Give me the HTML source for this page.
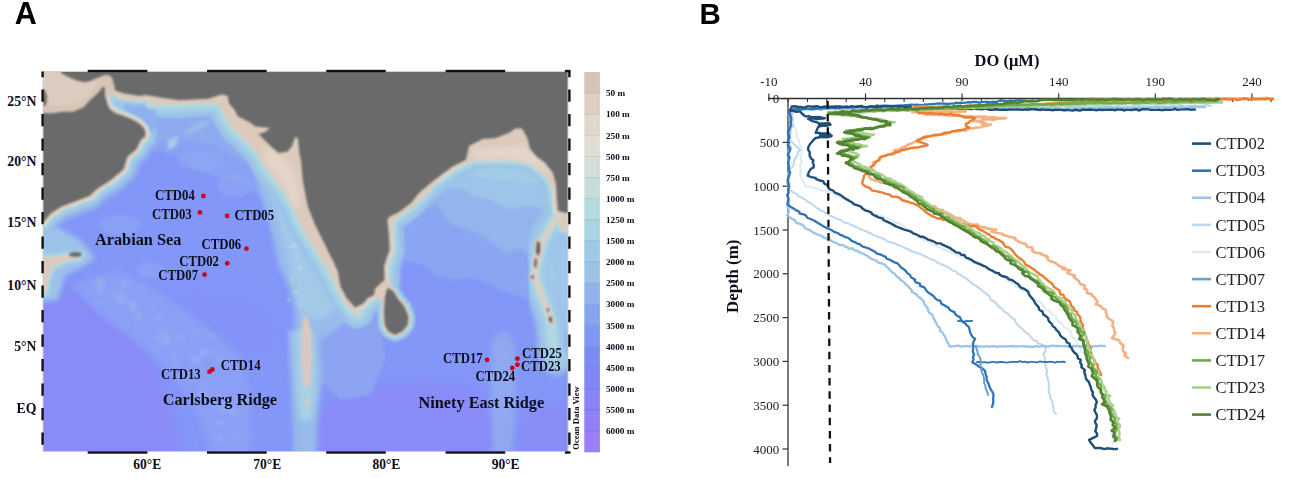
<!DOCTYPE html>
<html><head><meta charset="utf-8"><title>Figure</title>
<style>html,body{margin:0;padding:0;background:#fff;}body{width:1299px;height:478px;overflow:hidden;}svg{display:block;}</style>
</head><body>
<svg width="1299" height="478" viewBox="0 0 1299 478">
<defs>
<filter id="b1" x="-20%" y="-20%" width="140%" height="140%"><feGaussianBlur stdDeviation="1"/></filter>
<filter id="b2" x="-20%" y="-20%" width="140%" height="140%"><feGaussianBlur stdDeviation="2.5"/></filter>
<filter id="b3" x="-20%" y="-20%" width="140%" height="140%"><feGaussianBlur stdDeviation="1.6"/></filter>
<filter id="b5" x="-20%" y="-20%" width="140%" height="140%"><feGaussianBlur stdDeviation="6"/></filter>
<clipPath id="mapclip"><rect x="43" y="71.5" width="525" height="380"/></clipPath>
</defs>
<g clip-path="url(#mapclip)">
<rect x="0" y="0" width="650" height="478" fill="#8397f8"/>
<g filter="url(#b5)">
<path d="M20,285 L80,290 L120,310 L150,350 L170,400 L185,470 L20,470 Z" fill="#898bf8"/>
<path d="M300,470 L315,410 L350,390 L420,380 L470,385 L492,400 L495,470 Z" fill="#898bf8"/>
<path d="M515,470 L520,420 L545,405 L575,400 L575,470 Z" fill="#898bf8" opacity="0.8"/>
<path d="M150,300 L200,290 L260,300 L280,330 L270,360 L230,340 L190,320 Z" fill="#8690f7" opacity="0.7"/>
</g>
<g filter="url(#b3)">
<path d="M40,200 L60,192 L100,178 L130,165 L150,150 L175,155 L200,172 L240,182 L262,200 L275,240 L300,240 L300,60 L40,60 Z" fill="#8aa2f3"/>
<path d="M120,100 L230,100 L250,140 L262,170 L240,160 L215,145 L190,140 L165,142 L140,135 Z" fill="#8eaaf1"/>
<path d="M60.3,-50.0 L650.0,-50.0 L650.0,214.0 L566.7,213.0 L558.0,211.0 L557.0,200.0 L556.0,184.0 L553.0,173.0 L545.0,162.4 L537.0,157.0 L530.0,148.8 L527.4,138.0 L522.0,128.4 L515.0,128.4 L509.7,132.5 L496.0,138.0 L482.5,139.0 L469.0,146.0 L466.0,159.7 L452.6,166.5 L436.0,178.7 L420.0,192.0 L416.6,195.9 L410.8,203.2 L399.0,212.0 L390.0,216.4 L387.3,219.3 L388.8,234.0 L389.6,250.0 L386.5,258.4 L384.0,266.7 L384.4,280.3 L380.2,283.5 L375.0,288.7 L374.0,295.0 L367.7,298.1 L363.5,303.3 L355.1,307.5 L346.7,298.0 L340.5,286.6 L338.0,272.0 L334.1,263.0 L329.0,253.0 L324.7,244.1 L315.3,225.3 L307.8,206.5 L304.5,190.0 L302.5,178.0 L301.0,160.0 L299.5,154.5 L298.0,138.4 L295.1,136.9 L292.2,145.7 L287.8,151.5 L279.0,153.0 L273.2,148.6 L264.3,139.8 L258.5,134.0 L264.3,132.5 L270.2,128.1 L255.5,126.6 L249.7,122.2 L243.8,119.3 L238.0,116.4 L235.0,110.5 L229.0,103.2 L227.7,95.9 L221.8,94.4 L208.6,98.8 L179.3,100.3 L160.0,97.4 L154.5,96.6 L145.4,95.1 L139.4,95.9 L133.4,95.1 L124.3,93.6 L115.3,90.6 L113.8,84.6 L112.3,78.5 L110.0,75.8 L106.3,74.8 L103.3,75.5 L100.2,77.0 L95.7,78.5 L91.2,80.8 L85.2,82.3 L77.6,80.8 L70.0,77.8 L62.6,74.0 L60.3,71.0 Z" fill="#90acf0" stroke="#90acf0" stroke-width="34" stroke-linejoin="round" />
<path d="M-50.0,113.0 L40.0,113.0 L52.0,113.2 L62.6,111.7 L73.1,111.7 L83.7,107.2 L88.2,101.9 L95.7,95.1 L100.2,90.6 L101.7,87.6 L103.3,86.8 L105.0,88.3 L104.8,93.6 L106.3,101.1 L109.3,108.7 L115.3,113.2 L124.3,116.2 L133.4,120.0 L139.4,123.7 L143.9,128.2 L145.4,132.8 L144.7,137.3 L141.4,139.0 L136.0,149.6 L127.2,156.7 L123.7,169.1 L111.2,179.8 L97.0,188.7 L89.8,195.8 L75.6,201.2 L61.4,206.5 L50.7,213.6 L43.6,221.8 L-50.0,225.0 Z" fill="#90acf0" stroke="#90acf0" stroke-width="30" stroke-linejoin="round" />
<ellipse cx="200" cy="160" rx="22" ry="10" fill="#8fa9f3" opacity="0.6"/>
<ellipse cx="235" cy="185" rx="18" ry="12" fill="#8fa9f3" opacity="0.6"/>
<ellipse cx="120" cy="225" rx="20" ry="10" fill="#8fa9f3" opacity="0.6"/>
<ellipse cx="150" cy="270" rx="14" ry="8" fill="#8fa9f3" opacity="0.6"/>
<ellipse cx="115" cy="290" rx="12" ry="7" fill="#8fa9f3" opacity="0.6"/>
<ellipse cx="250" cy="150" rx="15" ry="8" fill="#8fa9f3" opacity="0.6"/>
<path d="M168,140 L178,136 L176,146 L168,150 Z" fill="#a5cde6"/>
<path d="M182,132 L205,120 L212,122 L190,134 Z" fill="#98bbec"/>
<path d="M380,300 L395,265 L402,260 L423,265 L435,275 L450,280 L475,278 L500,290 L530,300 L560,320 L575,320 L575,100 L380,100 Z" fill="#8aa5f1"/>
<path d="M380,260 L395,222 L415,210 L437,205 L443,215 L453,225 L468,230 L482,235 L501,250 L507,254 L518,248 L530,255 L545,262 L560,280 L575,280 L575,100 L380,100 Z" fill="#93b4ed"/>
<path d="M380,250 L392,230 L400,215 L420,200 L440,189 L461,188 L471,195 L488,199 L503,207 L513,209 L530,205 L545,210 L560,230 L575,230 L575,100 L380,100 Z" fill="#9dc4e9"/>
<path d="M470,150 L560,150 L560,185 L520,182 L490,178 L470,175 Z" fill="#a3cde6"/>
<path d="M320,300 L380,320 L385,360 L370,395 L340,400 L320,380 Z" fill="#8ca4f2"/>
</g>
<g filter="url(#b2)">
<path d="M248,150 L259,188 L270,225 L278,263 L289,289 L294,308 L296,335 L325,338 L345,322 L355,312 L330,290 L300,225 L280,180 Z" fill="#97bbeb"/>
<path d="M262,175 L274,205 L283,240 L290,270 L297,300 L303,318 L322,320 L338,305 L318,260 L300,225 L285,190 Z" fill="#a2c9e8"/>
<path d="M288,330 L300,330 L320,335 L322,380 L318,420 L316,460 L294,460 L292,400 L290,360 Z" fill="#97baeb"/>
<path d="M290,330 L300,330 L318,335 L320,380 L314,420 L298,420 L292,380 Z" fill="#9cc3e9"/>
<path d="M297,330 L312,330 L314,370 L313,400 L311,420 L301,420 L299,400 L298,360 Z" fill="#a9d1e5"/>
<path d="M70,285 L120,270 L165,295 L205,325 L240,355 L252,400 L250,460 L212,460 L200,420 L180,385 L145,350 L100,315 Z" fill="#8a9ff5"/>
<ellipse cx="166.8" cy="332.4" rx="1.7" ry="1.8" fill="#9bb9f0" opacity="0.8"/>
<ellipse cx="177.3" cy="333.7" rx="1.6" ry="1.7" fill="#9bb9f0" opacity="0.8"/>
<ellipse cx="120.3" cy="294.7" rx="3.6" ry="1.2" fill="#9bb9f0" opacity="0.8"/>
<ellipse cx="118.8" cy="300.8" rx="2.9" ry="1.6" fill="#9bb9f0" opacity="0.8"/>
<ellipse cx="251.9" cy="438.4" rx="2.2" ry="1.2" fill="#9bb9f0" opacity="0.8"/>
<ellipse cx="111.8" cy="307.3" rx="2.0" ry="1.9" fill="#9bb9f0" opacity="0.8"/>
<ellipse cx="196.6" cy="378.3" rx="1.7" ry="1.1" fill="#9bb9f0" opacity="0.8"/>
<ellipse cx="130.7" cy="303.1" rx="2.3" ry="1.9" fill="#9bb9f0" opacity="0.8"/>
<ellipse cx="172.7" cy="353.9" rx="3.2" ry="1.4" fill="#9bb9f0" opacity="0.8"/>
<ellipse cx="176.1" cy="360.6" rx="3.3" ry="1.4" fill="#9bb9f0" opacity="0.8"/>
<ellipse cx="238.5" cy="440.1" rx="3.4" ry="1.2" fill="#9bb9f0" opacity="0.8"/>
<ellipse cx="202.9" cy="351.5" rx="3.4" ry="1.9" fill="#9bb9f0" opacity="0.8"/>
<ellipse cx="218.4" cy="422.4" rx="3.0" ry="1.9" fill="#9bb9f0" opacity="0.8"/>
<ellipse cx="195.3" cy="332.1" rx="2.7" ry="2.0" fill="#9bb9f0" opacity="0.8"/>
<ellipse cx="102.5" cy="282.0" rx="4.0" ry="2.2" fill="#9bb9f0" opacity="0.8"/>
<ellipse cx="136.4" cy="325.7" rx="1.6" ry="1.7" fill="#9bb9f0" opacity="0.8"/>
<ellipse cx="132.5" cy="304.9" rx="3.4" ry="1.2" fill="#9bb9f0" opacity="0.8"/>
<ellipse cx="124.5" cy="322.4" rx="1.7" ry="1.7" fill="#9bb9f0" opacity="0.8"/>
<ellipse cx="212.7" cy="351.2" rx="3.7" ry="1.4" fill="#9bb9f0" opacity="0.8"/>
<ellipse cx="156.9" cy="347.8" rx="3.9" ry="1.2" fill="#9bb9f0" opacity="0.8"/>
<ellipse cx="131.8" cy="309.0" rx="2.7" ry="1.9" fill="#9bb9f0" opacity="0.8"/>
<ellipse cx="158.5" cy="316.9" rx="2.4" ry="1.8" fill="#9bb9f0" opacity="0.8"/>
<ellipse cx="223.1" cy="423.4" rx="3.0" ry="2.0" fill="#9bb9f0" opacity="0.8"/>
<ellipse cx="123.2" cy="283.3" rx="3.7" ry="2.2" fill="#9bb9f0" opacity="0.8"/>
<ellipse cx="164.1" cy="336.6" rx="3.1" ry="1.1" fill="#9bb9f0" opacity="0.8"/>
<ellipse cx="111.0" cy="294.5" rx="2.4" ry="1.1" fill="#9bb9f0" opacity="0.8"/>
<ellipse cx="98.3" cy="285.3" rx="2.4" ry="1.0" fill="#9bb9f0" opacity="0.8"/>
<ellipse cx="220.5" cy="411.4" rx="2.1" ry="1.5" fill="#9bb9f0" opacity="0.8"/>
<ellipse cx="180.4" cy="339.1" rx="4.0" ry="1.7" fill="#9bb9f0" opacity="0.8"/>
<ellipse cx="189.5" cy="349.9" rx="2.4" ry="1.4" fill="#9bb9f0" opacity="0.8"/>
<ellipse cx="224.4" cy="406.2" rx="3.9" ry="1.8" fill="#9bb9f0" opacity="0.8"/>
<ellipse cx="122.9" cy="300.1" rx="2.8" ry="2.5" fill="#9bb9f0" opacity="0.8"/>
<ellipse cx="222.1" cy="406.9" rx="2.4" ry="1.3" fill="#9bb9f0" opacity="0.8"/>
<ellipse cx="198.6" cy="393.0" rx="2.3" ry="1.3" fill="#9bb9f0" opacity="0.8"/>
<ellipse cx="245.2" cy="400.9" rx="3.5" ry="2.2" fill="#9bb9f0" opacity="0.8"/>
<ellipse cx="218.9" cy="396.6" rx="2.4" ry="1.0" fill="#9bb9f0" opacity="0.8"/>
<ellipse cx="99.2" cy="290.9" rx="3.2" ry="2.4" fill="#9bb9f0" opacity="0.8"/>
<ellipse cx="211.2" cy="336.0" rx="3.9" ry="1.5" fill="#9bb9f0" opacity="0.8"/>
<ellipse cx="139.7" cy="314.8" rx="2.0" ry="1.9" fill="#9bb9f0" opacity="0.8"/>
<ellipse cx="233.9" cy="413.3" rx="3.1" ry="2.2" fill="#9bb9f0" opacity="0.8"/>
<ellipse cx="98.8" cy="282.0" rx="3.5" ry="2.1" fill="#9bb9f0" opacity="0.8"/>
<ellipse cx="192.8" cy="357.2" rx="2.3" ry="2.2" fill="#9bb9f0" opacity="0.8"/>
<ellipse cx="219.4" cy="437.7" rx="3.9" ry="2.1" fill="#9bb9f0" opacity="0.8"/>
<ellipse cx="134.5" cy="306.3" rx="3.8" ry="2.2" fill="#9bb9f0" opacity="0.8"/>
<ellipse cx="141.1" cy="285.6" rx="3.1" ry="1.5" fill="#9bb9f0" opacity="0.8"/>
<ellipse cx="197.4" cy="359.2" rx="3.9" ry="2.0" fill="#9bb9f0" opacity="0.8"/>
<ellipse cx="203.9" cy="352.5" rx="3.7" ry="2.2" fill="#9bb9f0" opacity="0.8"/>
<ellipse cx="136.8" cy="314.5" rx="2.1" ry="1.9" fill="#9bb9f0" opacity="0.8"/>
<ellipse cx="139.8" cy="317.9" rx="3.8" ry="1.5" fill="#9bb9f0" opacity="0.8"/>
<ellipse cx="157.7" cy="338.1" rx="2.6" ry="2.4" fill="#9bb9f0" opacity="0.8"/>
<ellipse cx="173.5" cy="349.8" rx="1.5" ry="1.7" fill="#9bb9f0" opacity="0.8"/>
<ellipse cx="153.5" cy="305.9" rx="1.9" ry="1.7" fill="#9bb9f0" opacity="0.8"/>
<ellipse cx="205.8" cy="385.1" rx="2.8" ry="1.8" fill="#9bb9f0" opacity="0.8"/>
<ellipse cx="232.0" cy="402.0" rx="2.1" ry="1.4" fill="#9bb9f0" opacity="0.8"/>
<ellipse cx="203.7" cy="394.8" rx="3.4" ry="2.4" fill="#9bb9f0" opacity="0.8"/>
<ellipse cx="166.7" cy="337.6" rx="2.8" ry="2.0" fill="#9bb9f0" opacity="0.8"/>
<ellipse cx="165.8" cy="342.2" rx="3.9" ry="2.0" fill="#9bb9f0" opacity="0.8"/>
<ellipse cx="234.4" cy="412.4" rx="2.9" ry="2.4" fill="#9bb9f0" opacity="0.8"/>
<ellipse cx="227.8" cy="409.3" rx="2.6" ry="1.1" fill="#9bb9f0" opacity="0.8"/>
<ellipse cx="158.1" cy="317.6" rx="3.5" ry="2.3" fill="#9bb9f0" opacity="0.8"/>
<ellipse cx="123.3" cy="293.0" rx="1.9" ry="2.3" fill="#9bb9f0" opacity="0.8"/>
<ellipse cx="234.5" cy="447.7" rx="2.5" ry="1.7" fill="#9bb9f0" opacity="0.8"/>
<ellipse cx="233.2" cy="434.8" rx="2.6" ry="1.8" fill="#9bb9f0" opacity="0.8"/>
<ellipse cx="162.9" cy="332.4" rx="3.3" ry="1.0" fill="#9bb9f0" opacity="0.8"/>
<ellipse cx="194.8" cy="359.7" rx="2.3" ry="1.9" fill="#9bb9f0" opacity="0.8"/>
<ellipse cx="221.6" cy="359.7" rx="3.5" ry="2.5" fill="#9bb9f0" opacity="0.8"/>
<ellipse cx="116.7" cy="297.2" rx="3.4" ry="1.4" fill="#9bb9f0" opacity="0.8"/>
<ellipse cx="98.9" cy="304.6" rx="3.5" ry="1.4" fill="#9bb9f0" opacity="0.8"/>
<ellipse cx="139.8" cy="297.1" rx="3.3" ry="1.1" fill="#9bb9f0" opacity="0.8"/>
<ellipse cx="102.3" cy="284.0" rx="1.7" ry="2.4" fill="#9bb9f0" opacity="0.8"/>
<ellipse cx="500.0" cy="409.8" rx="2.8" ry="2.2" fill="#98b6f0" opacity="0.8"/>
<ellipse cx="496.7" cy="434.9" rx="2.2" ry="3.0" fill="#98b6f0" opacity="0.8"/>
<ellipse cx="502.8" cy="400.8" rx="1.7" ry="3.6" fill="#98b6f0" opacity="0.8"/>
<ellipse cx="500.3" cy="366.2" rx="1.7" ry="2.5" fill="#98b6f0" opacity="0.8"/>
<ellipse cx="503.8" cy="345.5" rx="2.0" ry="4.3" fill="#98b6f0" opacity="0.8"/>
<ellipse cx="504.7" cy="371.9" rx="2.3" ry="2.5" fill="#98b6f0" opacity="0.8"/>
<ellipse cx="504.1" cy="378.2" rx="1.5" ry="4.2" fill="#98b6f0" opacity="0.8"/>
<ellipse cx="500.3" cy="400.6" rx="1.8" ry="3.4" fill="#98b6f0" opacity="0.8"/>
<ellipse cx="503.7" cy="442.8" rx="2.1" ry="3.5" fill="#98b6f0" opacity="0.8"/>
<ellipse cx="503.0" cy="431.8" rx="2.1" ry="3.5" fill="#98b6f0" opacity="0.8"/>
<ellipse cx="502.9" cy="415.7" rx="2.7" ry="4.1" fill="#98b6f0" opacity="0.8"/>
<ellipse cx="499.1" cy="410.0" rx="2.1" ry="3.0" fill="#98b6f0" opacity="0.8"/>
<ellipse cx="503.8" cy="346.0" rx="2.6" ry="2.8" fill="#98b6f0" opacity="0.8"/>
<ellipse cx="503.2" cy="358.0" rx="1.6" ry="4.5" fill="#98b6f0" opacity="0.8"/>
<ellipse cx="496.7" cy="435.8" rx="1.9" ry="2.9" fill="#98b6f0" opacity="0.8"/>
<ellipse cx="497.6" cy="390.5" rx="1.7" ry="3.3" fill="#98b6f0" opacity="0.8"/>
<ellipse cx="512.0" cy="369.0" rx="2.3" ry="2.7" fill="#98b6f0" opacity="0.8"/>
<ellipse cx="495.1" cy="446.2" rx="2.0" ry="3.1" fill="#98b6f0" opacity="0.8"/>
<ellipse cx="499.7" cy="340.1" rx="2.3" ry="2.6" fill="#98b6f0" opacity="0.8"/>
<ellipse cx="503.3" cy="395.5" rx="1.5" ry="2.8" fill="#98b6f0" opacity="0.8"/>
<ellipse cx="501.6" cy="349.9" rx="1.5" ry="2.9" fill="#98b6f0" opacity="0.8"/>
<ellipse cx="502.4" cy="365.6" rx="2.4" ry="3.6" fill="#98b6f0" opacity="0.8"/>
<ellipse cx="495.4" cy="422.6" rx="2.8" ry="3.2" fill="#98b6f0" opacity="0.8"/>
<ellipse cx="495.9" cy="375.9" rx="3.0" ry="2.4" fill="#98b6f0" opacity="0.8"/>
<ellipse cx="498.3" cy="419.7" rx="2.8" ry="4.7" fill="#98b6f0" opacity="0.8"/>
<path d="M492,340 L505,330 L515,345 L516,400 L512,460 L494,460 L490,400 Z" fill="#8fa8ef"/>
<path d="M545,215 L575,215 L575,330 L560,335 L545,300 L530,260 L532,230 Z" fill="#9fc6e9"/>
<path d="M538,235 L548,240 L552,280 L555,320 L548,325 L540,290 L532,260 Z" fill="#b5d9e0"/>
<path d="M20,225 L60,228 L80,240 L95,258 L80,268 L65,275 L58,300 L20,305 Z" fill="#9cc3ea"/>
</g>
<g filter="url(#b1)">
<path d="M60.3,-50.0 L650.0,-50.0 L650.0,214.0 L566.7,213.0 L558.0,211.0 L557.0,200.0 L556.0,184.0 L553.0,173.0 L545.0,162.4 L537.0,157.0 L530.0,148.8 L527.4,138.0 L522.0,128.4 L515.0,128.4 L509.7,132.5 L496.0,138.0 L482.5,139.0 L469.0,146.0 L466.0,159.7 L452.6,166.5 L436.0,178.7 L420.0,192.0 L416.6,195.9 L410.8,203.2 L399.0,212.0 L390.0,216.4 L387.3,219.3 L388.8,234.0 L389.6,250.0 L386.5,258.4 L384.0,266.7 L384.4,280.3 L380.2,283.5 L375.0,288.7 L374.0,295.0 L367.7,298.1 L363.5,303.3 L355.1,307.5 L346.7,298.0 L340.5,286.6 L338.0,272.0 L334.1,263.0 L329.0,253.0 L324.7,244.1 L315.3,225.3 L307.8,206.5 L304.5,190.0 L302.5,178.0 L301.0,160.0 L299.5,154.5 L298.0,138.4 L295.1,136.9 L292.2,145.7 L287.8,151.5 L279.0,153.0 L273.2,148.6 L264.3,139.8 L258.5,134.0 L264.3,132.5 L270.2,128.1 L255.5,126.6 L249.7,122.2 L243.8,119.3 L238.0,116.4 L235.0,110.5 L229.0,103.2 L227.7,95.9 L221.8,94.4 L208.6,98.8 L179.3,100.3 L160.0,97.4 L154.5,96.6 L145.4,95.1 L139.4,95.9 L133.4,95.1 L124.3,93.6 L115.3,90.6 L113.8,84.6 L112.3,78.5 L110.0,75.8 L106.3,74.8 L103.3,75.5 L100.2,77.0 L95.7,78.5 L91.2,80.8 L85.2,82.3 L77.6,80.8 L70.0,77.8 L62.6,74.0 L60.3,71.0 Z" fill="#9cc2e8" stroke="#9cc2e8" stroke-width="30" stroke-linejoin="round"/>
<path d="M-50.0,113.0 L40.0,113.0 L52.0,113.2 L62.6,111.7 L73.1,111.7 L83.7,107.2 L88.2,101.9 L95.7,95.1 L100.2,90.6 L101.7,87.6 L103.3,86.8 L105.0,88.3 L104.8,93.6 L106.3,101.1 L109.3,108.7 L115.3,113.2 L124.3,116.2 L133.4,120.0 L139.4,123.7 L143.9,128.2 L145.4,132.8 L144.7,137.3 L141.4,139.0 L136.0,149.6 L127.2,156.7 L123.7,169.1 L111.2,179.8 L97.0,188.7 L89.8,195.8 L75.6,201.2 L61.4,206.5 L50.7,213.6 L43.6,221.8 L-50.0,225.0 Z" fill="#9cc2e8" stroke="#9cc2e8" stroke-width="22" stroke-linejoin="round"/>
<path d="M150.0,97.0 L221.8,94.4 L229.0,103.2 L238.0,116.4 L255.5,126.6 L270.2,128.1 L298.0,138.4 L302.5,178.0 L304.5,190.0 L307.8,206.5 L315.3,225.3 L324.7,244.1 L334.1,263.0 L341.7,281.8 L349.2,296.8 L355.0,307.3 L360.0,314.0 L356.7,315.7 L349.2,308.1 L341.7,296.8 L336.0,285.5 L328.5,270.5 L319.0,255.4 L309.7,240.4 L300.2,225.3 L292.7,206.5 L281.4,188.0 L275.0,180.0 L268.0,171.0 L262.0,162.0 L258.0,154.0 L252.0,147.0 L243.8,139.0 L232.0,128.1 L223.3,113.4 L218.9,104.7 L208.6,103.2 L179.3,104.7 L150.0,104.7 Z" fill="#9cc2e8" stroke="#9cc2e8" stroke-width="26" stroke-linejoin="round"/>
<path d="M389.0,240.0 L388.8,234.0 L387.3,219.3 L390.0,216.4 L399.0,212.0 L410.8,203.2 L416.6,195.9 L420.0,192.0 L436.0,178.7 L452.6,166.5 L466.0,159.7 L469.0,146.0 L482.5,139.0 L496.0,138.0 L509.7,132.5 L515.0,128.4 L522.0,128.4 L527.4,138.0 L530.0,148.8 L537.0,157.0 L545.0,162.4 L553.0,173.0 L556.0,184.0 L557.0,200.0 L558.0,211.0 L566.7,213.0 L575.0,213.0 L575.0,232.0 L560.0,230.0 L557.0,200.0 L547.7,178.7 L528.7,162.4 L501.5,159.7 L474.0,161.0 L447.0,170.5 L425.0,196.0 L413.0,207.0 L402.0,215.0 L394.0,221.0 L393.0,235.0 Z" fill="#9cc2e8" stroke="#9cc2e8" stroke-width="16" stroke-linejoin="round"/>
<path d="M387.5,287.7 L392.8,290.8 L399.0,300.2 L404.3,306.5 L408.5,317.0 L407.4,325.3 L402.2,331.6 L394.9,334.7 L388.6,331.6 L384.8,325.3 L384.0,312.8 L384.8,298.1 L386.5,290.8 Z" fill="#9cc2e8" stroke="#9cc2e8" stroke-width="14" stroke-linejoin="round"/>
<path d="M30.0,258.0 L55.0,257.0 L68.0,254.5 L82.0,254.5 L80.0,258.0 L70.0,260.0 L60.0,263.0 L52.0,268.0 L48.0,278.0 L46.0,292.0 L30.0,292.0 Z" fill="#9cc2e8" stroke="#9cc2e8" stroke-width="12" stroke-linejoin="round"/>
<path d="M60.3,-50.0 L650.0,-50.0 L650.0,214.0 L566.7,213.0 L558.0,211.0 L557.0,200.0 L556.0,184.0 L553.0,173.0 L545.0,162.4 L537.0,157.0 L530.0,148.8 L527.4,138.0 L522.0,128.4 L515.0,128.4 L509.7,132.5 L496.0,138.0 L482.5,139.0 L469.0,146.0 L466.0,159.7 L452.6,166.5 L436.0,178.7 L420.0,192.0 L416.6,195.9 L410.8,203.2 L399.0,212.0 L390.0,216.4 L387.3,219.3 L388.8,234.0 L389.6,250.0 L386.5,258.4 L384.0,266.7 L384.4,280.3 L380.2,283.5 L375.0,288.7 L374.0,295.0 L367.7,298.1 L363.5,303.3 L355.1,307.5 L346.7,298.0 L340.5,286.6 L338.0,272.0 L334.1,263.0 L329.0,253.0 L324.7,244.1 L315.3,225.3 L307.8,206.5 L304.5,190.0 L302.5,178.0 L301.0,160.0 L299.5,154.5 L298.0,138.4 L295.1,136.9 L292.2,145.7 L287.8,151.5 L279.0,153.0 L273.2,148.6 L264.3,139.8 L258.5,134.0 L264.3,132.5 L270.2,128.1 L255.5,126.6 L249.7,122.2 L243.8,119.3 L238.0,116.4 L235.0,110.5 L229.0,103.2 L227.7,95.9 L221.8,94.4 L208.6,98.8 L179.3,100.3 L160.0,97.4 L154.5,96.6 L145.4,95.1 L139.4,95.9 L133.4,95.1 L124.3,93.6 L115.3,90.6 L113.8,84.6 L112.3,78.5 L110.0,75.8 L106.3,74.8 L103.3,75.5 L100.2,77.0 L95.7,78.5 L91.2,80.8 L85.2,82.3 L77.6,80.8 L70.0,77.8 L62.6,74.0 L60.3,71.0 Z" fill="#a3cfe5" stroke="#a3cfe5" stroke-width="20" stroke-linejoin="round"/>
<path d="M-50.0,113.0 L40.0,113.0 L52.0,113.2 L62.6,111.7 L73.1,111.7 L83.7,107.2 L88.2,101.9 L95.7,95.1 L100.2,90.6 L101.7,87.6 L103.3,86.8 L105.0,88.3 L104.8,93.6 L106.3,101.1 L109.3,108.7 L115.3,113.2 L124.3,116.2 L133.4,120.0 L139.4,123.7 L143.9,128.2 L145.4,132.8 L144.7,137.3 L141.4,139.0 L136.0,149.6 L127.2,156.7 L123.7,169.1 L111.2,179.8 L97.0,188.7 L89.8,195.8 L75.6,201.2 L61.4,206.5 L50.7,213.6 L43.6,221.8 L-50.0,225.0 Z" fill="#a3cfe5" stroke="#a3cfe5" stroke-width="15" stroke-linejoin="round"/>
<path d="M150.0,97.0 L221.8,94.4 L229.0,103.2 L238.0,116.4 L255.5,126.6 L270.2,128.1 L298.0,138.4 L302.5,178.0 L304.5,190.0 L307.8,206.5 L315.3,225.3 L324.7,244.1 L334.1,263.0 L341.7,281.8 L349.2,296.8 L355.0,307.3 L360.0,314.0 L356.7,315.7 L349.2,308.1 L341.7,296.8 L336.0,285.5 L328.5,270.5 L319.0,255.4 L309.7,240.4 L300.2,225.3 L292.7,206.5 L281.4,188.0 L275.0,180.0 L268.0,171.0 L262.0,162.0 L258.0,154.0 L252.0,147.0 L243.8,139.0 L232.0,128.1 L223.3,113.4 L218.9,104.7 L208.6,103.2 L179.3,104.7 L150.0,104.7 Z" fill="#a3cfe5" stroke="#a3cfe5" stroke-width="16" stroke-linejoin="round"/>
<path d="M389.0,240.0 L388.8,234.0 L387.3,219.3 L390.0,216.4 L399.0,212.0 L410.8,203.2 L416.6,195.9 L420.0,192.0 L436.0,178.7 L452.6,166.5 L466.0,159.7 L469.0,146.0 L482.5,139.0 L496.0,138.0 L509.7,132.5 L515.0,128.4 L522.0,128.4 L527.4,138.0 L530.0,148.8 L537.0,157.0 L545.0,162.4 L553.0,173.0 L556.0,184.0 L557.0,200.0 L558.0,211.0 L566.7,213.0 L575.0,213.0 L575.0,232.0 L560.0,230.0 L557.0,200.0 L547.7,178.7 L528.7,162.4 L501.5,159.7 L474.0,161.0 L447.0,170.5 L425.0,196.0 L413.0,207.0 L402.0,215.0 L394.0,221.0 L393.0,235.0 Z" fill="#a3cfe5" stroke="#a3cfe5" stroke-width="10" stroke-linejoin="round"/>
<path d="M387.5,287.7 L392.8,290.8 L399.0,300.2 L404.3,306.5 L408.5,317.0 L407.4,325.3 L402.2,331.6 L394.9,334.7 L388.6,331.6 L384.8,325.3 L384.0,312.8 L384.8,298.1 L386.5,290.8 Z" fill="#a3cfe5" stroke="#a3cfe5" stroke-width="10" stroke-linejoin="round"/>
<path d="M30.0,258.0 L55.0,257.0 L68.0,254.5 L82.0,254.5 L80.0,258.0 L70.0,260.0 L60.0,263.0 L52.0,268.0 L48.0,278.0 L46.0,292.0 L30.0,292.0 Z" fill="#a3cfe5" stroke="#a3cfe5" stroke-width="8" stroke-linejoin="round"/>
<path d="M126.0,104.0 L135.0,105.0 L145.0,105.5 L152.0,107.0 L156.0,112.0 L156.0,125.0 L152.0,134.0 L146.0,131.0 L141.0,127.0 L134.0,121.0 L128.0,114.0 L124.0,108.0 Z" fill="#8fb0ef" filter="url(#b3)"/>
<polyline points="562.0,210.0 552.0,225.0 544.0,238.0 538.0,258.0 535.0,276.0 541.0,294.0 548.0,311.0 551.0,323.0 553.0,345.0 556.0,360.0" fill="none" stroke="#9cc2e8" stroke-width="30" stroke-linejoin="round" stroke-linecap="round" filter="url(#b2)"/>
<polyline points="562.0,210.0 552.0,225.0 544.0,238.0 538.0,258.0 535.0,276.0 541.0,294.0 548.0,311.0 551.0,323.0 553.0,345.0 556.0,360.0" fill="none" stroke="#a3cfe5" stroke-width="17" stroke-linejoin="round" stroke-linecap="round" filter="url(#b2)"/>
<polyline points="562.0,210.0 552.0,225.0 544.0,238.0 538.0,258.0 535.0,276.0 541.0,294.0 548.0,311.0 551.0,323.0 553.0,345.0" fill="none" stroke="#b0d8e0" stroke-width="10" stroke-linejoin="round" stroke-linecap="round"/>
<path d="M60.3,-50.0 L650.0,-50.0 L650.0,214.0 L566.7,213.0 L558.0,211.0 L557.0,200.0 L556.0,184.0 L553.0,173.0 L545.0,162.4 L537.0,157.0 L530.0,148.8 L527.4,138.0 L522.0,128.4 L515.0,128.4 L509.7,132.5 L496.0,138.0 L482.5,139.0 L469.0,146.0 L466.0,159.7 L452.6,166.5 L436.0,178.7 L420.0,192.0 L416.6,195.9 L410.8,203.2 L399.0,212.0 L390.0,216.4 L387.3,219.3 L388.8,234.0 L389.6,250.0 L386.5,258.4 L384.0,266.7 L384.4,280.3 L380.2,283.5 L375.0,288.7 L374.0,295.0 L367.7,298.1 L363.5,303.3 L355.1,307.5 L346.7,298.0 L340.5,286.6 L338.0,272.0 L334.1,263.0 L329.0,253.0 L324.7,244.1 L315.3,225.3 L307.8,206.5 L304.5,190.0 L302.5,178.0 L301.0,160.0 L299.5,154.5 L298.0,138.4 L295.1,136.9 L292.2,145.7 L287.8,151.5 L279.0,153.0 L273.2,148.6 L264.3,139.8 L258.5,134.0 L264.3,132.5 L270.2,128.1 L255.5,126.6 L249.7,122.2 L243.8,119.3 L238.0,116.4 L235.0,110.5 L229.0,103.2 L227.7,95.9 L221.8,94.4 L208.6,98.8 L179.3,100.3 L160.0,97.4 L154.5,96.6 L145.4,95.1 L139.4,95.9 L133.4,95.1 L124.3,93.6 L115.3,90.6 L113.8,84.6 L112.3,78.5 L110.0,75.8 L106.3,74.8 L103.3,75.5 L100.2,77.0 L95.7,78.5 L91.2,80.8 L85.2,82.3 L77.6,80.8 L70.0,77.8 L62.6,74.0 L60.3,71.0 Z" fill="#b0d8e0" stroke="#b0d8e0" stroke-width="13" stroke-linejoin="round"/>
<path d="M-50.0,113.0 L40.0,113.0 L52.0,113.2 L62.6,111.7 L73.1,111.7 L83.7,107.2 L88.2,101.9 L95.7,95.1 L100.2,90.6 L101.7,87.6 L103.3,86.8 L105.0,88.3 L104.8,93.6 L106.3,101.1 L109.3,108.7 L115.3,113.2 L124.3,116.2 L133.4,120.0 L139.4,123.7 L143.9,128.2 L145.4,132.8 L144.7,137.3 L141.4,139.0 L136.0,149.6 L127.2,156.7 L123.7,169.1 L111.2,179.8 L97.0,188.7 L89.8,195.8 L75.6,201.2 L61.4,206.5 L50.7,213.6 L43.6,221.8 L-50.0,225.0 Z" fill="#b0d8e0" stroke="#b0d8e0" stroke-width="10" stroke-linejoin="round"/>
<path d="M150.0,97.0 L221.8,94.4 L229.0,103.2 L238.0,116.4 L255.5,126.6 L270.2,128.1 L298.0,138.4 L302.5,178.0 L304.5,190.0 L307.8,206.5 L315.3,225.3 L324.7,244.1 L334.1,263.0 L341.7,281.8 L349.2,296.8 L355.0,307.3 L360.0,314.0 L356.7,315.7 L349.2,308.1 L341.7,296.8 L336.0,285.5 L328.5,270.5 L319.0,255.4 L309.7,240.4 L300.2,225.3 L292.7,206.5 L281.4,188.0 L275.0,180.0 L268.0,171.0 L262.0,162.0 L258.0,154.0 L252.0,147.0 L243.8,139.0 L232.0,128.1 L223.3,113.4 L218.9,104.7 L208.6,103.2 L179.3,104.7 L150.0,104.7 Z" fill="#b0d8e0" stroke="#b0d8e0" stroke-width="8" stroke-linejoin="round"/>
<path d="M389.0,240.0 L388.8,234.0 L387.3,219.3 L390.0,216.4 L399.0,212.0 L410.8,203.2 L416.6,195.9 L420.0,192.0 L436.0,178.7 L452.6,166.5 L466.0,159.7 L469.0,146.0 L482.5,139.0 L496.0,138.0 L509.7,132.5 L515.0,128.4 L522.0,128.4 L527.4,138.0 L530.0,148.8 L537.0,157.0 L545.0,162.4 L553.0,173.0 L556.0,184.0 L557.0,200.0 L558.0,211.0 L566.7,213.0 L575.0,213.0 L575.0,232.0 L560.0,230.0 L557.0,200.0 L547.7,178.7 L528.7,162.4 L501.5,159.7 L474.0,161.0 L447.0,170.5 L425.0,196.0 L413.0,207.0 L402.0,215.0 L394.0,221.0 L393.0,235.0 Z" fill="#b0d8e0" stroke="#b0d8e0" stroke-width="5" stroke-linejoin="round"/>
<path d="M387.5,287.7 L392.8,290.8 L399.0,300.2 L404.3,306.5 L408.5,317.0 L407.4,325.3 L402.2,331.6 L394.9,334.7 L388.6,331.6 L384.8,325.3 L384.0,312.8 L384.8,298.1 L386.5,290.8 Z" fill="#b0d8e0" stroke="#b0d8e0" stroke-width="7" stroke-linejoin="round"/>
<path d="M30.0,258.0 L55.0,257.0 L68.0,254.5 L82.0,254.5 L80.0,258.0 L70.0,260.0 L60.0,263.0 L52.0,268.0 L48.0,278.0 L46.0,292.0 L30.0,292.0 Z" fill="#b0d8e0" stroke="#b0d8e0" stroke-width="4" stroke-linejoin="round"/>
<path d="M60.3,-50.0 L650.0,-50.0 L650.0,214.0 L566.7,213.0 L558.0,211.0 L557.0,200.0 L556.0,184.0 L553.0,173.0 L545.0,162.4 L537.0,157.0 L530.0,148.8 L527.4,138.0 L522.0,128.4 L515.0,128.4 L509.7,132.5 L496.0,138.0 L482.5,139.0 L469.0,146.0 L466.0,159.7 L452.6,166.5 L436.0,178.7 L420.0,192.0 L416.6,195.9 L410.8,203.2 L399.0,212.0 L390.0,216.4 L387.3,219.3 L388.8,234.0 L389.6,250.0 L386.5,258.4 L384.0,266.7 L384.4,280.3 L380.2,283.5 L375.0,288.7 L374.0,295.0 L367.7,298.1 L363.5,303.3 L355.1,307.5 L346.7,298.0 L340.5,286.6 L338.0,272.0 L334.1,263.0 L329.0,253.0 L324.7,244.1 L315.3,225.3 L307.8,206.5 L304.5,190.0 L302.5,178.0 L301.0,160.0 L299.5,154.5 L298.0,138.4 L295.1,136.9 L292.2,145.7 L287.8,151.5 L279.0,153.0 L273.2,148.6 L264.3,139.8 L258.5,134.0 L264.3,132.5 L270.2,128.1 L255.5,126.6 L249.7,122.2 L243.8,119.3 L238.0,116.4 L235.0,110.5 L229.0,103.2 L227.7,95.9 L221.8,94.4 L208.6,98.8 L179.3,100.3 L160.0,97.4 L154.5,96.6 L145.4,95.1 L139.4,95.9 L133.4,95.1 L124.3,93.6 L115.3,90.6 L113.8,84.6 L112.3,78.5 L110.0,75.8 L106.3,74.8 L103.3,75.5 L100.2,77.0 L95.7,78.5 L91.2,80.8 L85.2,82.3 L77.6,80.8 L70.0,77.8 L62.6,74.0 L60.3,71.0 Z" fill="#e3d8cd" stroke="#e3d8cd" stroke-width="8" stroke-linejoin="round"/>
<path d="M-50.0,113.0 L40.0,113.0 L52.0,113.2 L62.6,111.7 L73.1,111.7 L83.7,107.2 L88.2,101.9 L95.7,95.1 L100.2,90.6 L101.7,87.6 L103.3,86.8 L105.0,88.3 L104.8,93.6 L106.3,101.1 L109.3,108.7 L115.3,113.2 L124.3,116.2 L133.4,120.0 L139.4,123.7 L143.9,128.2 L145.4,132.8 L144.7,137.3 L141.4,139.0 L136.0,149.6 L127.2,156.7 L123.7,169.1 L111.2,179.8 L97.0,188.7 L89.8,195.8 L75.6,201.2 L61.4,206.5 L50.7,213.6 L43.6,221.8 L-50.0,225.0 Z" fill="#e3d8cd" stroke="#e3d8cd" stroke-width="7" stroke-linejoin="round"/>
<path d="M60.3,-50.0 L650.0,-50.0 L650.0,214.0 L566.7,213.0 L558.0,211.0 L557.0,200.0 L556.0,184.0 L553.0,173.0 L545.0,162.4 L537.0,157.0 L530.0,148.8 L527.4,138.0 L522.0,128.4 L515.0,128.4 L509.7,132.5 L496.0,138.0 L482.5,139.0 L469.0,146.0 L466.0,159.7 L452.6,166.5 L436.0,178.7 L420.0,192.0 L416.6,195.9 L410.8,203.2 L399.0,212.0 L390.0,216.4 L387.3,219.3 L388.8,234.0 L389.6,250.0 L386.5,258.4 L384.0,266.7 L384.4,280.3 L380.2,283.5 L375.0,288.7 L374.0,295.0 L367.7,298.1 L363.5,303.3 L355.1,307.5 L346.7,298.0 L340.5,286.6 L338.0,272.0 L334.1,263.0 L329.0,253.0 L324.7,244.1 L315.3,225.3 L307.8,206.5 L304.5,190.0 L302.5,178.0 L301.0,160.0 L299.5,154.5 L298.0,138.4 L295.1,136.9 L292.2,145.7 L287.8,151.5 L279.0,153.0 L273.2,148.6 L264.3,139.8 L258.5,134.0 L264.3,132.5 L270.2,128.1 L255.5,126.6 L249.7,122.2 L243.8,119.3 L238.0,116.4 L235.0,110.5 L229.0,103.2 L227.7,95.9 L221.8,94.4 L208.6,98.8 L179.3,100.3 L160.0,97.4 L154.5,96.6 L145.4,95.1 L139.4,95.9 L133.4,95.1 L124.3,93.6 L115.3,90.6 L113.8,84.6 L112.3,78.5 L110.0,75.8 L106.3,74.8 L103.3,75.5 L100.2,77.0 L95.7,78.5 L91.2,80.8 L85.2,82.3 L77.6,80.8 L70.0,77.8 L62.6,74.0 L60.3,71.0 Z" fill="#dccbbc" stroke="#dccbbc" stroke-width="5" stroke-linejoin="round"/>
<path d="M-50.0,113.0 L40.0,113.0 L52.0,113.2 L62.6,111.7 L73.1,111.7 L83.7,107.2 L88.2,101.9 L95.7,95.1 L100.2,90.6 L101.7,87.6 L103.3,86.8 L105.0,88.3 L104.8,93.6 L106.3,101.1 L109.3,108.7 L115.3,113.2 L124.3,116.2 L133.4,120.0 L139.4,123.7 L143.9,128.2 L145.4,132.8 L144.7,137.3 L141.4,139.0 L136.0,149.6 L127.2,156.7 L123.7,169.1 L111.2,179.8 L97.0,188.7 L89.8,195.8 L75.6,201.2 L61.4,206.5 L50.7,213.6 L43.6,221.8 L-50.0,225.0 Z" fill="#dccbbc" stroke="#dccbbc" stroke-width="4" stroke-linejoin="round"/>
<path d="M387.5,287.7 L392.8,290.8 L399.0,300.2 L404.3,306.5 L408.5,317.0 L407.4,325.3 L402.2,331.6 L394.9,334.7 L388.6,331.6 L384.8,325.3 L384.0,312.8 L384.8,298.1 L386.5,290.8 Z" fill="#dccbbc" stroke="#dccbbc" stroke-width="4" stroke-linejoin="round"/>
<path d="M150.0,97.0 L221.8,94.4 L229.0,103.2 L238.0,116.4 L255.5,126.6 L270.2,128.1 L298.0,138.4 L302.5,178.0 L304.5,190.0 L307.8,206.5 L315.3,225.3 L324.7,244.1 L334.1,263.0 L341.7,281.8 L349.2,296.8 L355.0,307.3 L360.0,314.0 L356.7,315.7 L349.2,308.1 L341.7,296.8 L336.0,285.5 L328.5,270.5 L319.0,255.4 L309.7,240.4 L300.2,225.3 L292.7,206.5 L281.4,188.0 L275.0,180.0 L268.0,171.0 L262.0,162.0 L258.0,154.0 L252.0,147.0 L243.8,139.0 L232.0,128.1 L223.3,113.4 L218.9,104.7 L208.6,103.2 L179.3,104.7 L150.0,104.7 Z" fill="#dccbbc"/>
<path d="M389.0,240.0 L388.8,234.0 L387.3,219.3 L390.0,216.4 L399.0,212.0 L410.8,203.2 L416.6,195.9 L420.0,192.0 L436.0,178.7 L452.6,166.5 L466.0,159.7 L469.0,146.0 L482.5,139.0 L496.0,138.0 L509.7,132.5 L515.0,128.4 L522.0,128.4 L527.4,138.0 L530.0,148.8 L537.0,157.0 L545.0,162.4 L553.0,173.0 L556.0,184.0 L557.0,200.0 L558.0,211.0 L566.7,213.0 L575.0,213.0 L575.0,232.0 L560.0,230.0 L557.0,200.0 L547.7,178.7 L528.7,162.4 L501.5,159.7 L474.0,161.0 L447.0,170.5 L425.0,196.0 L413.0,207.0 L402.0,215.0 L394.0,221.0 L393.0,235.0 Z" fill="#dccbbc"/>
<path d="M103.0,75.0 L110.0,75.8 L112.3,78.5 L113.8,84.6 L115.3,90.6 L124.3,93.6 L133.4,95.1 L145.4,95.1 L160.0,97.4 L179.3,100.3 L180.0,103.0 L160.0,102.0 L145.0,100.5 L133.0,100.5 L122.0,99.0 L115.0,96.5 L109.0,92.0 Z" fill="#dccbbc"/>
<path d="M262,152 L272,150 L290,165 L297,185 L300,205 L296,210 L287,192 L278,176 L266,162 Z" fill="#e3d6ca" filter="url(#b2)"/>
<path d="M470,150 L500,147 L525,145 L540,158 L548,175 L535,165 L505,158 L478,160 Z" fill="#e2d6cb" filter="url(#b2)"/>
<path d="M376.0,284.0 L384.0,281.0 L388.0,283.0 L392.0,289.0 L389.0,296.0 L382.0,299.0 L375.0,296.0 Z" fill="#dccbbc" stroke="#dccbbc" stroke-width="3"/>
<path d="M30.0,258.0 L55.0,257.0 L68.0,254.5 L82.0,254.5 L80.0,258.0 L70.0,260.0 L60.0,263.0 L52.0,268.0 L48.0,278.0 L46.0,292.0 L30.0,292.0 Z" fill="#dccbbc"/>
<polyline points="562.0,210.0 552.0,225.0 544.0,238.0 538.0,258.0 535.0,276.0 541.0,294.0 548.0,311.0 551.0,323.0" fill="none" stroke="#dccfc4" stroke-width="5" stroke-linejoin="round" stroke-linecap="round"/>
<path d="M537.0,241.0 L540.0,243.0 L540.0,252.0 L538.0,256.0 L536.0,252.0 Z" fill="#dccbbc" stroke="#dccbbc" stroke-width="4" stroke-linejoin="round"/>
<path d="M535.0,258.0 L537.0,260.0 L536.0,268.0 L534.0,266.0 Z" fill="#dccbbc" stroke="#dccbbc" stroke-width="4" stroke-linejoin="round"/>
<path d="M532.0,275.0 L534.0,276.0 L533.0,279.0 L531.0,278.0 Z" fill="#dccbbc" stroke="#dccbbc" stroke-width="4" stroke-linejoin="round"/>
<path d="M547.0,308.0 L549.0,309.0 L549.0,312.0 L547.0,311.0 Z" fill="#dccbbc" stroke="#dccbbc" stroke-width="4" stroke-linejoin="round"/>
<path d="M549.0,316.0 L552.0,318.0 L552.0,323.0 L549.0,321.0 Z" fill="#dccbbc" stroke="#dccbbc" stroke-width="4" stroke-linejoin="round"/>
<path d="M-50,60 L62,60 L62.6,74 L70,77.8 L77.6,80.8 L85.2,82.3 L91.2,80.8 L100,77 L106,75 L110,76 L113,84 L115,91 L110,97 L104.8,93.6 L103,87 L95.7,95.1 L88,102 L83.7,107.2 L73,111.7 L52,113.2 L-50,113 Z" fill="#d7c5b5"/>
<path d="M43,71 L62,71 L68,78 L85,84 L100,80 L88,96 L75,104 L60,106 L43,104 Z" fill="#dccfc3" opacity="0.8"/>
<path d="M302,320 L307,315 L311,330 L312,360 L310,385 L304,387 L301.5,360 Z" fill="#dac9c0" filter="url(#b1)"/>
<circle cx="307.5" cy="402" r="2.5" fill="#dac9c0"/>
<circle cx="294" cy="246" r="2.5" fill="#b9d9e3" opacity="0.8"/>
<circle cx="297" cy="256" r="2" fill="#b9d9e3" opacity="0.8"/>
<circle cx="300" cy="268" r="2.2" fill="#b9d9e3" opacity="0.8"/>
<circle cx="292" cy="280" r="1.8" fill="#b9d9e3" opacity="0.8"/>
<circle cx="296" cy="292" r="2" fill="#b9d9e3" opacity="0.8"/>
<circle cx="289" cy="300" r="1.6" fill="#b9d9e3" opacity="0.8"/>
<circle cx="301" cy="305" r="1.8" fill="#b9d9e3" opacity="0.8"/>
</g>
<g filter="url(#b1)">
<path d="M60.3,-50.0 L650.0,-50.0 L650.0,214.0 L566.7,213.0 L558.0,211.0 L557.0,200.0 L556.0,184.0 L553.0,173.0 L545.0,162.4 L537.0,157.0 L530.0,148.8 L527.4,138.0 L522.0,128.4 L515.0,128.4 L509.7,132.5 L496.0,138.0 L482.5,139.0 L469.0,146.0 L466.0,159.7 L452.6,166.5 L436.0,178.7 L420.0,192.0 L416.6,195.9 L410.8,203.2 L399.0,212.0 L390.0,216.4 L387.3,219.3 L388.8,234.0 L389.6,250.0 L386.5,258.4 L384.0,266.7 L384.4,280.3 L380.2,283.5 L375.0,288.7 L374.0,295.0 L367.7,298.1 L363.5,303.3 L355.1,307.5 L346.7,298.0 L340.5,286.6 L338.0,272.0 L334.1,263.0 L329.0,253.0 L324.7,244.1 L315.3,225.3 L307.8,206.5 L304.5,190.0 L302.5,178.0 L301.0,160.0 L299.5,154.5 L298.0,138.4 L295.1,136.9 L292.2,145.7 L287.8,151.5 L279.0,153.0 L273.2,148.6 L264.3,139.8 L258.5,134.0 L264.3,132.5 L270.2,128.1 L255.5,126.6 L249.7,122.2 L243.8,119.3 L238.0,116.4 L235.0,110.5 L229.0,103.2 L227.7,95.9 L221.8,94.4 L208.6,98.8 L179.3,100.3 L160.0,97.4 L154.5,96.6 L145.4,95.1 L139.4,95.9 L133.4,95.1 L124.3,93.6 L115.3,90.6 L113.8,84.6 L112.3,78.5 L110.0,75.8 L106.3,74.8 L103.3,75.5 L100.2,77.0 L95.7,78.5 L91.2,80.8 L85.2,82.3 L77.6,80.8 L70.0,77.8 L62.6,74.0 L60.3,71.0 Z" fill="#6a6a6a"/>
<path d="M-50.0,113.0 L40.0,113.0 L52.0,113.2 L62.6,111.7 L73.1,111.7 L83.7,107.2 L88.2,101.9 L95.7,95.1 L100.2,90.6 L101.7,87.6 L103.3,86.8 L105.0,88.3 L104.8,93.6 L106.3,101.1 L109.3,108.7 L115.3,113.2 L124.3,116.2 L133.4,120.0 L139.4,123.7 L143.9,128.2 L145.4,132.8 L144.7,137.3 L141.4,139.0 L136.0,149.6 L127.2,156.7 L123.7,169.1 L111.2,179.8 L97.0,188.7 L89.8,195.8 L75.6,201.2 L61.4,206.5 L50.7,213.6 L43.6,221.8 L-50.0,225.0 Z" fill="#6a6a6a"/>
<path d="M387.5,287.7 L392.8,290.8 L399.0,300.2 L404.3,306.5 L408.5,317.0 L407.4,325.3 L402.2,331.6 L394.9,334.7 L388.6,331.6 L384.8,325.3 L384.0,312.8 L384.8,298.1 L386.5,290.8 Z" fill="#6a6a6a"/>
<path d="M68.8,254.5 L71.0,252.6 L76.0,252.1 L81.0,252.8 L81.9,254.5 L80.0,256.4 L75.0,256.9 L70.5,256.3 Z" fill="#6a6a6a"/>
<path d="M40.0,89.0 L45.0,90.0 L47.0,96.0 L46.5,104.0 L44.0,106.0 L40.0,106.0 Z" fill="#6a6a6a"/>
<path d="M537.0,241.0 L540.0,243.0 L540.0,252.0 L538.0,256.0 L536.0,252.0 Z" fill="#5a5a5a"/>
<path d="M535.0,258.0 L537.0,260.0 L536.0,268.0 L534.0,266.0 Z" fill="#5a5a5a"/>
<path d="M532.0,275.0 L534.0,276.0 L533.0,279.0 L531.0,278.0 Z" fill="#5a5a5a"/>
<path d="M547.0,308.0 L549.0,309.0 L549.0,312.0 L547.0,311.0 Z" fill="#5a5a5a"/>
<path d="M549.0,316.0 L552.0,318.0 L552.0,323.0 L549.0,321.0 Z" fill="#5a5a5a"/>
</g>
</g>
<rect x="43" y="71.5" width="525" height="380" fill="none" stroke="#d0d0d0" stroke-width="1"/>
<rect x="87.7" y="69.8" width="59.7" height="2.4" fill="#111"/>
<rect x="87.7" y="451.3" width="59.7" height="2.4" fill="#111"/>
<rect x="207.0" y="69.8" width="59.7" height="2.4" fill="#111"/>
<rect x="207.0" y="451.3" width="59.7" height="2.4" fill="#111"/>
<rect x="326.2" y="69.8" width="59.6" height="2.4" fill="#111"/>
<rect x="326.2" y="451.3" width="59.6" height="2.4" fill="#111"/>
<rect x="445.6" y="69.8" width="59.6" height="2.4" fill="#111"/>
<rect x="445.6" y="451.3" width="59.6" height="2.4" fill="#111"/>
<rect x="564.9" y="69.8" width="5.6" height="2.4" fill="#111"/>
<rect x="564.9" y="451.3" width="5.6" height="2.4" fill="#111"/>
<line x1="42.6" y1="71.5" x2="42.6" y2="451.5" stroke="#111" stroke-width="2.4" stroke-dasharray="12.2,12.3" stroke-dashoffset="6.5"/>
<line x1="569.4" y1="71.5" x2="569.4" y2="451.5" stroke="#111" stroke-width="2.4" stroke-dasharray="12.2,12.3" stroke-dashoffset="6.5"/>
<circle cx="203.5" cy="196" r="2.4" fill="#c8001c"/>
<circle cx="199.9" cy="212.4" r="2.4" fill="#c8001c"/>
<circle cx="227.2" cy="216" r="2.4" fill="#c8001c"/>
<circle cx="246.5" cy="248.6" r="2.4" fill="#c8001c"/>
<circle cx="227.3" cy="263.3" r="2.4" fill="#c8001c"/>
<circle cx="204.5" cy="274.6" r="2.4" fill="#c8001c"/>
<circle cx="209.5" cy="371.7" r="2.4" fill="#c8001c"/>
<circle cx="212.4" cy="369.4" r="2.4" fill="#c8001c"/>
<circle cx="487.1" cy="359.8" r="2.4" fill="#c8001c"/>
<circle cx="517.4" cy="358.7" r="2.4" fill="#c8001c"/>
<circle cx="517.4" cy="364.6" r="2.4" fill="#c8001c"/>
<circle cx="512.3" cy="368" r="2.4" fill="#c8001c"/>
<text transform="translate(155.1,200) scale(0.9,1)" font-size="14.2" font-family="Liberation Serif, serif" font-weight="bold" fill="#0d0d1c">CTD04</text>
<text transform="translate(152,218.6) scale(0.9,1)" font-size="14.2" font-family="Liberation Serif, serif" font-weight="bold" fill="#0d0d1c">CTD03</text>
<text transform="translate(234.4,219.6) scale(0.9,1)" font-size="14.2" font-family="Liberation Serif, serif" font-weight="bold" fill="#0d0d1c">CTD05</text>
<text transform="translate(201.5,248.5) scale(0.9,1)" font-size="14.2" font-family="Liberation Serif, serif" font-weight="bold" fill="#0d0d1c">CTD06</text>
<text transform="translate(179.2,265.5) scale(0.9,1)" font-size="14.2" font-family="Liberation Serif, serif" font-weight="bold" fill="#0d0d1c">CTD02</text>
<text transform="translate(158.3,280) scale(0.9,1)" font-size="14.2" font-family="Liberation Serif, serif" font-weight="bold" fill="#0d0d1c">CTD07</text>
<text transform="translate(220.8,370.3) scale(0.9,1)" font-size="14.2" font-family="Liberation Serif, serif" font-weight="bold" fill="#0d0d1c">CTD14</text>
<text transform="translate(161,378.7) scale(0.9,1)" font-size="14.2" font-family="Liberation Serif, serif" font-weight="bold" fill="#0d0d1c">CTD13</text>
<text transform="translate(443,363.2) scale(0.9,1)" font-size="14.2" font-family="Liberation Serif, serif" font-weight="bold" fill="#0d0d1c">CTD17</text>
<text transform="translate(522.1,357.6) scale(0.9,1)" font-size="14.2" font-family="Liberation Serif, serif" font-weight="bold" fill="#0d0d1c">CTD25</text>
<text transform="translate(521,370.8) scale(0.9,1)" font-size="14.2" font-family="Liberation Serif, serif" font-weight="bold" fill="#0d0d1c">CTD23</text>
<text transform="translate(475.5,381.3) scale(0.9,1)" font-size="14.2" font-family="Liberation Serif, serif" font-weight="bold" fill="#0d0d1c">CTD24</text>
<text x="95" y="244.8" font-size="16.3" font-family="Liberation Serif, serif" font-weight="bold" fill="#0d0d1c">Arabian Sea</text>
<text x="162.7" y="404.6" font-size="16.3" font-family="Liberation Serif, serif" font-weight="bold" fill="#0d0d1c">Carlsberg Ridge</text>
<text x="418.5" y="407.6" font-size="16.3" font-family="Liberation Serif, serif" font-weight="bold" fill="#0d0d1c">Ninety East Ridge</text>
<text transform="translate(36.5,106.4) scale(0.97,1)" font-size="14.2" text-anchor="end" font-family="Liberation Serif, serif" font-weight="bold" fill="#0d0d1c">25°N</text>
<text transform="translate(36.5,166.1) scale(0.97,1)" font-size="14.2" text-anchor="end" font-family="Liberation Serif, serif" font-weight="bold" fill="#0d0d1c">20°N</text>
<text transform="translate(36.5,226.5) scale(0.97,1)" font-size="14.2" text-anchor="end" font-family="Liberation Serif, serif" font-weight="bold" fill="#0d0d1c">15°N</text>
<text transform="translate(36.5,290.2) scale(0.97,1)" font-size="14.2" text-anchor="end" font-family="Liberation Serif, serif" font-weight="bold" fill="#0d0d1c">10°N</text>
<text transform="translate(36.5,351.2) scale(0.97,1)" font-size="14.2" text-anchor="end" font-family="Liberation Serif, serif" font-weight="bold" fill="#0d0d1c">5°N</text>
<text transform="translate(36.5,413.3) scale(0.97,1)" font-size="14.2" text-anchor="end" font-family="Liberation Serif, serif" font-weight="bold" fill="#0d0d1c">EQ</text>
<text transform="translate(147.3,469.1) scale(0.965,1)" font-size="14" text-anchor="middle" font-family="Liberation Serif, serif" font-weight="bold" fill="#0d0d1c">60°E</text>
<text transform="translate(267.2,469.1) scale(0.965,1)" font-size="14" text-anchor="middle" font-family="Liberation Serif, serif" font-weight="bold" fill="#0d0d1c">70°E</text>
<text transform="translate(386.4,469.1) scale(0.965,1)" font-size="14" text-anchor="middle" font-family="Liberation Serif, serif" font-weight="bold" fill="#0d0d1c">80°E</text>
<text transform="translate(505.6,469.1) scale(0.965,1)" font-size="14" text-anchor="middle" font-family="Liberation Serif, serif" font-weight="bold" fill="#0d0d1c">90°E</text>
<text transform="translate(578.6,418) rotate(-90)" font-size="8.6" text-anchor="middle" font-family="Liberation Serif, serif" font-weight="bold" fill="#0d0d1c">Ocean Data View</text>
<rect x="584.3" y="72.00" width="15.6" height="21.41" fill="#d6c4b4"/>
<rect x="584.3" y="93.11" width="15.6" height="21.41" fill="#ddcfc3"/>
<rect x="584.3" y="114.22" width="15.6" height="21.41" fill="#e2d7cc"/>
<rect x="584.3" y="135.33" width="15.6" height="21.41" fill="#e2ddd3"/>
<rect x="584.3" y="156.44" width="15.6" height="21.41" fill="#d5ded6"/>
<rect x="584.3" y="177.56" width="15.6" height="21.41" fill="#c6dedb"/>
<rect x="584.3" y="198.67" width="15.6" height="21.41" fill="#b6dbdf"/>
<rect x="584.3" y="219.78" width="15.6" height="21.41" fill="#a8d4e3"/>
<rect x="584.3" y="240.89" width="15.6" height="21.41" fill="#9ecae6"/>
<rect x="584.3" y="262.00" width="15.6" height="21.41" fill="#9cc2e8"/>
<rect x="584.3" y="283.11" width="15.6" height="21.41" fill="#92b3ec"/>
<rect x="584.3" y="304.22" width="15.6" height="21.41" fill="#86a5f0"/>
<rect x="584.3" y="325.33" width="15.6" height="21.41" fill="#7e98f3"/>
<rect x="584.3" y="346.44" width="15.6" height="21.41" fill="#7b8df5"/>
<rect x="584.3" y="367.56" width="15.6" height="21.41" fill="#8086f6"/>
<rect x="584.3" y="388.67" width="15.6" height="21.41" fill="#8a83f7"/>
<rect x="584.3" y="409.78" width="15.6" height="21.41" fill="#9280f7"/>
<rect x="584.3" y="430.89" width="15.6" height="21.41" fill="#9a7ff7"/>
<line x1="584.3" x2="599.9" y1="93.11" y2="93.11" stroke="#000" stroke-opacity="0.12" stroke-width="0.8"/>
<line x1="584.3" x2="599.9" y1="114.22" y2="114.22" stroke="#000" stroke-opacity="0.12" stroke-width="0.8"/>
<line x1="584.3" x2="599.9" y1="135.33" y2="135.33" stroke="#000" stroke-opacity="0.12" stroke-width="0.8"/>
<line x1="584.3" x2="599.9" y1="156.44" y2="156.44" stroke="#000" stroke-opacity="0.12" stroke-width="0.8"/>
<line x1="584.3" x2="599.9" y1="177.56" y2="177.56" stroke="#000" stroke-opacity="0.12" stroke-width="0.8"/>
<line x1="584.3" x2="599.9" y1="198.67" y2="198.67" stroke="#000" stroke-opacity="0.12" stroke-width="0.8"/>
<line x1="584.3" x2="599.9" y1="219.78" y2="219.78" stroke="#000" stroke-opacity="0.12" stroke-width="0.8"/>
<line x1="584.3" x2="599.9" y1="240.89" y2="240.89" stroke="#000" stroke-opacity="0.12" stroke-width="0.8"/>
<line x1="584.3" x2="599.9" y1="262.00" y2="262.00" stroke="#000" stroke-opacity="0.12" stroke-width="0.8"/>
<line x1="584.3" x2="599.9" y1="283.11" y2="283.11" stroke="#000" stroke-opacity="0.12" stroke-width="0.8"/>
<line x1="584.3" x2="599.9" y1="304.22" y2="304.22" stroke="#000" stroke-opacity="0.12" stroke-width="0.8"/>
<line x1="584.3" x2="599.9" y1="325.33" y2="325.33" stroke="#000" stroke-opacity="0.12" stroke-width="0.8"/>
<line x1="584.3" x2="599.9" y1="346.44" y2="346.44" stroke="#000" stroke-opacity="0.12" stroke-width="0.8"/>
<line x1="584.3" x2="599.9" y1="367.56" y2="367.56" stroke="#000" stroke-opacity="0.12" stroke-width="0.8"/>
<line x1="584.3" x2="599.9" y1="388.67" y2="388.67" stroke="#000" stroke-opacity="0.12" stroke-width="0.8"/>
<line x1="584.3" x2="599.9" y1="409.78" y2="409.78" stroke="#000" stroke-opacity="0.12" stroke-width="0.8"/>
<line x1="584.3" x2="599.9" y1="430.89" y2="430.89" stroke="#000" stroke-opacity="0.12" stroke-width="0.8"/>
<text x="606" y="96.3" font-size="9.2" font-family="Liberation Serif, serif" font-weight="bold" fill="#0d0d1c">50 m</text>
<text x="606" y="117.4" font-size="9.2" font-family="Liberation Serif, serif" font-weight="bold" fill="#0d0d1c">100 m</text>
<text x="606" y="138.5" font-size="9.2" font-family="Liberation Serif, serif" font-weight="bold" fill="#0d0d1c">250 m</text>
<text x="606" y="159.6" font-size="9.2" font-family="Liberation Serif, serif" font-weight="bold" fill="#0d0d1c">500 m</text>
<text x="606" y="180.8" font-size="9.2" font-family="Liberation Serif, serif" font-weight="bold" fill="#0d0d1c">750 m</text>
<text x="606" y="201.9" font-size="9.2" font-family="Liberation Serif, serif" font-weight="bold" fill="#0d0d1c">1000 m</text>
<text x="606" y="223.0" font-size="9.2" font-family="Liberation Serif, serif" font-weight="bold" fill="#0d0d1c">1250 m</text>
<text x="606" y="244.1" font-size="9.2" font-family="Liberation Serif, serif" font-weight="bold" fill="#0d0d1c">1500 m</text>
<text x="606" y="265.2" font-size="9.2" font-family="Liberation Serif, serif" font-weight="bold" fill="#0d0d1c">2000 m</text>
<text x="606" y="286.3" font-size="9.2" font-family="Liberation Serif, serif" font-weight="bold" fill="#0d0d1c">2500 m</text>
<text x="606" y="307.4" font-size="9.2" font-family="Liberation Serif, serif" font-weight="bold" fill="#0d0d1c">3000 m</text>
<text x="606" y="328.5" font-size="9.2" font-family="Liberation Serif, serif" font-weight="bold" fill="#0d0d1c">3500 m</text>
<text x="606" y="349.6" font-size="9.2" font-family="Liberation Serif, serif" font-weight="bold" fill="#0d0d1c">4000 m</text>
<text x="606" y="370.8" font-size="9.2" font-family="Liberation Serif, serif" font-weight="bold" fill="#0d0d1c">4500 m</text>
<text x="606" y="391.9" font-size="9.2" font-family="Liberation Serif, serif" font-weight="bold" fill="#0d0d1c">5000 m</text>
<text x="606" y="413.0" font-size="9.2" font-family="Liberation Serif, serif" font-weight="bold" fill="#0d0d1c">5500 m</text>
<text x="606" y="434.1" font-size="9.2" font-family="Liberation Serif, serif" font-weight="bold" fill="#0d0d1c">6000 m</text>
<text x="14.8" y="24.1" font-family="Liberation Sans, sans-serif" font-weight="bold" font-size="30.5" fill="#000">A</text>
<text x="699.4" y="24.1" font-family="Liberation Sans, sans-serif" font-weight="bold" font-size="29.5" fill="#000">B</text>
<text x="1007" y="66.4" font-size="16.5" text-anchor="middle" font-family="Liberation Serif, serif" font-weight="bold" fill="#0d0d1c">DO (μM)</text>
<text x="768.9" y="86" font-size="13" text-anchor="middle" font-family="Liberation Serif, serif" fill="#222">-10</text>
<text x="865.5" y="86" font-size="13" text-anchor="middle" font-family="Liberation Serif, serif" fill="#222">40</text>
<text x="962.1" y="86" font-size="13" text-anchor="middle" font-family="Liberation Serif, serif" fill="#222">90</text>
<text x="1058.7" y="86" font-size="13" text-anchor="middle" font-family="Liberation Serif, serif" fill="#222">140</text>
<text x="1155.3" y="86" font-size="13" text-anchor="middle" font-family="Liberation Serif, serif" fill="#222">190</text>
<text x="1251.9" y="86" font-size="13" text-anchor="middle" font-family="Liberation Serif, serif" fill="#222">240</text>
<text x="779.2" y="103.2" font-size="13" text-anchor="end" font-family="Liberation Serif, serif" fill="#222">0</text>
<text x="779.2" y="147.0" font-size="13" text-anchor="end" font-family="Liberation Serif, serif" fill="#222">500</text>
<text x="779.2" y="190.8" font-size="13" text-anchor="end" font-family="Liberation Serif, serif" fill="#222">1000</text>
<text x="779.2" y="234.6" font-size="13" text-anchor="end" font-family="Liberation Serif, serif" fill="#222">1500</text>
<text x="779.2" y="278.4" font-size="13" text-anchor="end" font-family="Liberation Serif, serif" fill="#222">2000</text>
<text x="779.2" y="322.2" font-size="13" text-anchor="end" font-family="Liberation Serif, serif" fill="#222">2500</text>
<text x="779.2" y="366.0" font-size="13" text-anchor="end" font-family="Liberation Serif, serif" fill="#222">3000</text>
<text x="779.2" y="409.8" font-size="13" text-anchor="end" font-family="Liberation Serif, serif" fill="#222">3500</text>
<text x="779.2" y="453.6" font-size="13" text-anchor="end" font-family="Liberation Serif, serif" fill="#222">4000</text>
<text transform="translate(738,276.3) rotate(-90)" font-size="16.8" text-anchor="middle" font-family="Liberation Serif, serif" font-weight="bold" fill="#0d0d1c">Depth (m)</text>
<line x1="768" y1="98.5" x2="1273" y2="98.5" stroke="#333" stroke-width="1.3"/>
<line x1="788" y1="98.5" x2="788" y2="466" stroke="#333" stroke-width="1.3"/>
<line x1="768.9" y1="93.5" x2="768.9" y2="101" stroke="#333" stroke-width="1.2"/>
<line x1="788.2" y1="98.5" x2="788.2" y2="102" stroke="#333" stroke-width="1.1"/>
<line x1="807.5" y1="98.5" x2="807.5" y2="102" stroke="#333" stroke-width="1.1"/>
<line x1="826.8" y1="98.5" x2="826.8" y2="102" stroke="#333" stroke-width="1.1"/>
<line x1="846.2" y1="98.5" x2="846.2" y2="102" stroke="#333" stroke-width="1.1"/>
<line x1="865.5" y1="93.5" x2="865.5" y2="101" stroke="#333" stroke-width="1.2"/>
<line x1="884.8" y1="98.5" x2="884.8" y2="102" stroke="#333" stroke-width="1.1"/>
<line x1="904.1" y1="98.5" x2="904.1" y2="102" stroke="#333" stroke-width="1.1"/>
<line x1="923.4" y1="98.5" x2="923.4" y2="102" stroke="#333" stroke-width="1.1"/>
<line x1="942.8" y1="98.5" x2="942.8" y2="102" stroke="#333" stroke-width="1.1"/>
<line x1="962.1" y1="93.5" x2="962.1" y2="101" stroke="#333" stroke-width="1.2"/>
<line x1="981.4" y1="98.5" x2="981.4" y2="102" stroke="#333" stroke-width="1.1"/>
<line x1="1000.7" y1="98.5" x2="1000.7" y2="102" stroke="#333" stroke-width="1.1"/>
<line x1="1020.0" y1="98.5" x2="1020.0" y2="102" stroke="#333" stroke-width="1.1"/>
<line x1="1039.4" y1="98.5" x2="1039.4" y2="102" stroke="#333" stroke-width="1.1"/>
<line x1="1058.7" y1="93.5" x2="1058.7" y2="101" stroke="#333" stroke-width="1.2"/>
<line x1="1078.0" y1="98.5" x2="1078.0" y2="102" stroke="#333" stroke-width="1.1"/>
<line x1="1097.3" y1="98.5" x2="1097.3" y2="102" stroke="#333" stroke-width="1.1"/>
<line x1="1116.6" y1="98.5" x2="1116.6" y2="102" stroke="#333" stroke-width="1.1"/>
<line x1="1136.0" y1="98.5" x2="1136.0" y2="102" stroke="#333" stroke-width="1.1"/>
<line x1="1155.3" y1="93.5" x2="1155.3" y2="101" stroke="#333" stroke-width="1.2"/>
<line x1="1174.6" y1="98.5" x2="1174.6" y2="102" stroke="#333" stroke-width="1.1"/>
<line x1="1193.9" y1="98.5" x2="1193.9" y2="102" stroke="#333" stroke-width="1.1"/>
<line x1="1213.2" y1="98.5" x2="1213.2" y2="102" stroke="#333" stroke-width="1.1"/>
<line x1="1232.6" y1="98.5" x2="1232.6" y2="102" stroke="#333" stroke-width="1.1"/>
<line x1="1251.9" y1="93.5" x2="1251.9" y2="101" stroke="#333" stroke-width="1.2"/>
<line x1="1271.2" y1="98.5" x2="1271.2" y2="102" stroke="#333" stroke-width="1.1"/>
<line x1="782.5" y1="98.6" x2="788" y2="98.6" stroke="#333" stroke-width="1.2"/>
<line x1="782.5" y1="142.4" x2="788" y2="142.4" stroke="#333" stroke-width="1.2"/>
<line x1="782.5" y1="186.2" x2="788" y2="186.2" stroke="#333" stroke-width="1.2"/>
<line x1="782.5" y1="230.0" x2="788" y2="230.0" stroke="#333" stroke-width="1.2"/>
<line x1="782.5" y1="273.8" x2="788" y2="273.8" stroke="#333" stroke-width="1.2"/>
<line x1="782.5" y1="317.6" x2="788" y2="317.6" stroke="#333" stroke-width="1.2"/>
<line x1="782.5" y1="361.4" x2="788" y2="361.4" stroke="#333" stroke-width="1.2"/>
<line x1="782.5" y1="405.2" x2="788" y2="405.2" stroke="#333" stroke-width="1.2"/>
<line x1="782.5" y1="449.0" x2="788" y2="449.0" stroke="#333" stroke-width="1.2"/>
<path d="M808,116.5 L818,116 L826,117.5 L824,119.5 L812,119.5 Z" fill="#1f4e79"/>
<path d="M818,122.5 L830,122 L832,125 L826,127 L818,126 Z" fill="#1f4e79"/>
<path d="M818,132.5 L829,132 L833,135.5 L828,138.5 L820,138 Z" fill="#1f4e79"/>
<polyline points="1200.0,104.0 1197.7,103.4 1194.6,104.1 1193.2,104.1 1189.2,104.2 1186.9,104.6 1184.9,104.8 1182.4,103.8 1179.3,104.1 1177.7,104.6 1175.1,104.0 1172.8,103.8 1170.3,104.0 1168.2,104.7 1165.2,104.0 1162.8,104.5 1159.7,104.2 1158.1,104.3 1155.2,104.9 1151.8,105.1 1150.5,104.3 1147.0,104.1 1145.5,103.6 1143.0,104.6 1139.7,104.4 1137.3,104.5 1135.4,104.4 1133.0,105.0 1129.9,104.9 1127.2,104.7 1125.2,105.4 1122.5,104.7 1120.0,104.7 1117.0,105.5 1114.7,104.6 1112.1,105.1 1111.5,106.0 1108.0,105.0 1105.0,104.6 1102.9,104.9 1101.0,104.9 1097.0,104.4 1094.1,105.3 1092.7,104.7 1089.2,105.2 1087.3,105.2 1085.0,104.9 1081.6,105.2 1080.0,105.3 1078.0,105.6 1074.8,105.5 1071.4,105.5 1070.0,105.7 1068.0,105.0 1064.9,105.7 1062.2,105.4 1059.7,105.6 1057.6,105.1 1054.3,104.7 1052.9,105.3 1049.6,105.3 1047.0,105.8 1045.3,104.8 1042.5,105.6 1039.8,105.6 1038.3,105.7 1035.6,106.0 1031.7,106.3 1030.1,105.6 1027.9,106.5 1024.6,105.5 1022.7,105.1 1019.4,105.8 1017.9,106.0 1015.4,106.2 1012.3,105.8 1009.8,105.8 1008.1,106.2 1004.0,106.1 1002.0,105.6 1000.7,106.5 998.1,106.3 995.9,105.7 992.9,105.8 989.7,105.5 988.3,106.8 985.5,106.0 982.6,105.8 979.9,106.8 978.3,106.5 975.4,106.3 972.7,106.3 970.3,106.1 968.0,106.3 965.1,106.4 963.3,106.8 959.6,106.1 957.8,106.5 954.9,106.6 953.4,106.5 950.7,106.4 947.4,106.7 945.0,106.5 942.0,106.6 939.8,106.7 938.0,106.9 935.6,106.8 932.7,107.0 930.4,107.2 927.2,107.0 925.1,107.3 922.9,106.7 920.2,107.2 917.5,107.4 915.1,106.6 912.7,107.3 909.6,107.3 906.1,107.8 904.3,107.0 902.3,106.7 900.2,106.9 896.8,106.4 895.4,107.7 892.4,107.3 890.8,107.4 888.1,107.7 885.4,107.6 883.1,107.5 880.1,107.2 876.5,107.1 874.8,107.9 872.3,106.8 870.4,108.0 867.7,107.7 865.2,107.6 863.2,107.3 859.6,107.1 857.3,107.4 854.7,107.8 853.1,107.3 850.1,107.5 847.2,107.6 845.2,107.3 843.3,107.8 839.7,107.3 838.1,108.2 835.5,108.0 833.4,108.5 831.1,108.1 828.0,108.1 825.0,108.3 822.4,108.6 819.9,108.8 817.4,108.9 814.5,109.0 812.6,109.7 810.3,110.5 806.7,110.1 804.0,109.8 801.7,110.2 800.3,111.0 797.3,111.0 794.8,110.4 792.9,110.8 792.2,113.7 792.4,116.2 793.7,118.8 793.4,121.3 793.2,124.7 794.8,127.2 795.9,129.7 796.2,132.2 796.7,135.2 796.9,138.0 798.5,140.0 799.3,142.6 799.6,144.6 801.3,147.4 801.8,150.1 802.6,152.1 800.4,154.9 800.5,157.4 800.7,160.0 802.0,162.5 800.0,164.6 800.1,167.0 800.6,170.1 800.7,172.8 799.9,174.8 801.0,177.7 802.2,179.9 804.9,183.8 804.9,185.8 807.3,186.8 809.8,186.4 812.6,188.0 814.3,187.9 817.5,188.6 820.5,189.9 821.6,190.4 824.3,190.6 828.2,191.3 830.3,191.9 833.3,193.2 836.2,194.5 836.8,195.5 839.1,197.2 841.0,198.1 844.6,199.3 845.5,200.6 848.9,201.6 850.3,202.5 853.7,203.6 855.5,204.6 857.6,205.9 861.3,207.0 862.1,207.6 864.9,209.1 866.8,209.4 870.4,211.0 871.4,212.1 873.7,212.9 875.5,213.8 877.5,215.3 881.1,215.9 883.5,216.5 885.9,218.0 888.7,218.7 890.3,220.0 893.0,221.0 895.4,222.3 897.7,223.1 899.9,223.5 902.5,225.3 904.4,226.5 907.6,228.9 908.8,230.2 911.7,232.2 913.6,233.3 915.3,234.4 917.9,235.9 919.7,237.7 922.0,238.7 924.7,241.0 927.6,241.9 928.8,242.5 931.7,244.3 934.5,244.9 936.0,246.2 939.4,247.0 941.4,247.9 943.4,249.5 945.6,250.5 948.0,251.0 951.0,252.2 952.6,253.0 955.3,254.0 957.6,255.3 959.5,256.3 962.8,256.7 964.7,258.0 966.3,259.4 969.7,260.3 971.9,261.6 973.1,262.6 977.0,264.3 978.2,264.4 981.4,266.0 983.6,267.0 986.3,268.5 988.0,269.4 990.5,270.7 993.1,271.8 995.6,272.8 997.4,274.2 999.8,274.5 1001.7,276.4 1004.0,277.7 1006.4,279.4 1008.3,280.5 1010.6,282.4 1012.0,283.3 1014.2,284.7 1017.2,287.1 1018.9,287.4 1020.5,289.5 1023.7,291.0 1025.7,291.9 1027.0,293.5 1029.9,294.7 1031.1,296.7 1032.9,298.3 1035.2,299.4 1037.7,301.0 1039.8,302.0 1042.1,303.7 1043.1,305.5 1045.2,307.7 1045.6,309.9 1050.4,311.4 1050.8,313.0 1052.7,314.7 1055.7,316.2 1056.4,318.8 1058.0,321.3 1060.4,322.6 1062.3,324.4 1064.0,326.8 1065.8,328.0 1068.5,329.7 1070.9,331.9 1071.3,334.7 1072.0,336.9 1073.8,338.1 1076.0,341.0 1076.9,342.6 1078.4,344.6 1079.8,346.8 1080.7,348.5 1081.3,351.1 1083.6,353.2 1085.5,355.2 1087.0,357.4 1088.6,359.4 1089.1,361.8 1090.3,364.1 1092.0,365.6 1093.9,368.5 1094.5,369.8 1096.5,373.3 1096.0,374.7 1097.9,376.8 1100.4,379.7 1100.5,381.9 1102.1,384.7 1102.3,386.6 1103.8,389.2 1104.1,391.4 1105.3,394.5 1105.9,396.6 1107.8,398.8 1108.6,401.6 1109.7,404.1 1111.2,406.0 1110.8,408.5 1111.4,411.4 1110.8,413.3 1111.1,415.9 1110.7,419.0 1112.5,420.6 1112.6,423.6 1112.3,426.8 1112.1,429.1 1112.2,431.4 1112.2,434.0 1112.7,436.8 1112.8,438.4 1112.5,442.0 1113.0,444.0" fill="none" stroke="#deebf7" stroke-width="2.0" stroke-linejoin="round" stroke-linecap="round"/>
<polyline points="1211.0,106.0 1207.8,105.6 1206.4,105.2 1203.3,105.2 1201.6,106.1 1199.2,105.9 1196.1,106.0 1192.9,106.1 1190.1,106.0 1188.7,106.1 1185.5,106.9 1183.3,105.9 1180.8,106.0 1178.0,106.0 1176.9,106.2 1173.3,106.4 1171.8,106.1 1167.7,107.1 1164.7,106.1 1163.5,107.0 1160.0,105.4 1158.4,106.1 1155.3,106.4 1153.1,106.4 1150.2,106.7 1148.8,106.3 1145.1,106.6 1143.2,105.9 1140.1,106.7 1137.8,106.2 1135.4,106.3 1132.8,105.7 1131.3,106.4 1127.2,106.7 1125.4,106.4 1123.3,107.2 1120.5,107.0 1119.0,106.1 1114.8,106.7 1111.6,106.3 1110.9,106.8 1107.9,105.8 1106.5,106.7 1103.0,106.7 1099.0,106.0 1096.8,107.2 1094.5,106.5 1092.3,106.8 1090.3,106.7 1086.7,105.5 1085.1,106.7 1083.2,106.6 1079.6,106.8 1076.6,106.4 1074.4,106.9 1073.8,107.0 1070.7,106.9 1067.7,106.7 1064.8,106.0 1061.8,106.4 1060.5,107.1 1058.2,107.5 1054.8,107.3 1053.7,107.0 1050.7,106.9 1046.5,107.1 1044.5,107.1 1042.2,107.2 1038.7,107.8 1038.3,107.0 1034.5,107.2 1032.9,107.3 1030.2,106.5 1026.8,107.7 1025.1,106.7 1022.0,106.8 1019.4,107.7 1017.4,107.7 1015.1,106.8 1012.1,108.2 1009.5,107.0 1008.3,107.5 1005.0,108.0 1001.4,107.6 999.4,107.0 997.0,107.9 994.9,106.9 991.8,108.1 990.6,107.2 989.0,107.4 984.3,107.5 983.1,108.2 980.6,107.5 977.2,107.1 975.0,107.4 972.7,107.2 969.7,107.4 966.8,107.3 964.4,107.3 962.8,107.8 959.2,107.9 957.7,108.3 954.9,107.7 952.1,107.8 950.3,107.9 947.3,108.0 945.1,107.9 941.9,107.9 939.4,107.6 937.6,108.6 935.6,107.9 932.4,108.3 930.8,108.3 927.4,108.0 924.8,107.8 922.0,107.9 918.7,107.5 917.8,107.7 915.3,107.5 912.3,108.2 909.4,107.8 909.0,107.8 904.6,107.9 902.5,108.1 900.6,108.4 897.3,108.0 894.1,107.6 892.0,108.4 890.1,108.5 888.1,108.1 886.3,108.0 882.1,108.1 880.7,108.2 877.0,108.4 875.7,108.2 872.3,108.7 870.6,108.7 867.0,108.4 865.2,107.7 863.2,108.4 859.8,109.2 857.6,108.1 855.0,108.6 853.0,108.4 849.5,108.2 847.0,108.1 845.0,108.3 842.5,108.2 839.5,108.5 837.3,109.0 834.4,108.6 832.5,108.1 830.4,108.7 826.2,108.8 825.5,108.4 823.4,108.7 819.2,108.9 817.1,108.3 813.5,108.8 811.8,109.0 810.0,108.6 806.9,109.5 805.7,109.1 801.9,108.5 799.4,109.5 797.3,108.8 793.8,109.0 791.5,109.0 792.5,113.4 791.9,115.6 791.7,119.0 791.6,120.6 792.1,123.9 793.1,126.3 790.7,129.1 790.8,131.7 789.5,133.9 790.1,137.1 789.6,140.8 792.5,142.4 793.7,144.1 795.9,145.9 798.5,148.2 800.2,150.1 797.9,152.2 797.7,154.9 795.8,157.6 794.4,159.8 794.3,162.4 793.4,165.2 791.7,167.9 788.7,170.0 788.9,172.5 789.4,175.8 789.1,178.6 788.5,180.7 788.6,183.8 788.3,185.9 787.8,188.3 790.9,190.5 792.5,191.7 794.0,192.9 797.0,194.1 798.1,196.4 801.7,197.3 803.2,198.7 805.9,199.8 807.4,201.7 810.5,202.9 812.0,204.3 813.8,205.8 816.6,207.8 818.4,208.8 820.9,210.6 823.8,211.6 825.9,213.1 828.4,214.7 829.8,215.8 832.9,216.7 835.5,218.2 837.9,219.3 840.8,220.0 842.7,221.3 843.9,222.5 847.2,223.1 849.8,224.4 852.7,225.6 854.6,226.7 857.6,227.4 859.7,228.8 862.4,229.8 864.5,231.0 868.2,231.8 868.2,233.3 871.2,233.2 872.5,234.9 877.0,236.1 878.5,237.3 881.0,237.6 883.5,238.9 885.8,240.0 886.8,241.4 890.2,242.1 892.4,243.0 895.2,243.4 897.9,245.2 899.3,245.3 902.1,246.7 905.0,248.0 908.3,249.2 909.7,250.1 910.5,250.7 914.2,252.0 917.4,253.1 920.2,253.8 922.3,255.0 924.6,256.1 926.8,257.1 929.2,258.5 931.4,259.4 935.3,260.6 936.3,261.9 937.6,262.9 940.9,264.0 943.3,265.2 945.7,265.8 947.5,267.0 950.2,268.4 951.0,269.5 953.4,270.9 955.9,271.3 958.0,273.9 960.6,274.8 962.9,276.6 965.5,278.2 967.0,279.1 969.0,280.9 971.0,282.4 972.4,284.0 975.2,285.3 977.3,286.6 979.6,288.4 981.4,289.7 983.2,291.8 985.8,293.4 988.6,295.6 990.0,297.5 991.0,300.0 993.2,300.9 995.9,302.9 997.9,305.9 999.8,307.2 1002.3,309.0 1003.9,311.3 1006.0,312.7 1008.1,313.9 1010.2,316.2 1012.4,318.2 1014.8,319.3 1015.3,321.7 1016.9,323.9 1019.2,325.7 1020.1,327.2 1022.9,329.3 1024.4,331.3 1026.4,332.9 1029.4,334.9 1030.6,337.3 1032.6,338.8 1033.8,340.6 1037.0,341.0 1037.6,343.0 1041.4,344.5 1044.2,345.7 1045.8,349.0 1045.2,351.4 1043.4,354.1 1044.6,356.8 1045.0,359.6 1044.8,361.9 1045.6,364.4 1045.5,367.5 1047.1,369.9 1046.9,372.1 1046.5,375.1 1047.5,377.1 1048.0,380.1 1048.8,382.8 1048.7,384.9 1049.0,387.2 1048.7,389.4 1048.8,392.1 1049.9,395.0 1050.1,397.7 1052.0,400.7 1052.5,403.2 1053.2,406.2 1053.4,408.7 1053.8,411.9 1056.0,414.0" fill="none" stroke="#bdd7ee" stroke-width="2.0" stroke-linejoin="round" stroke-linecap="round"/>
<polyline points="1205.0,107.0 1202.5,107.2 1199.7,107.2 1198.1,107.2 1195.9,106.8 1192.5,106.9 1189.5,107.1 1187.6,107.3 1185.3,108.0 1183.0,106.7 1180.1,107.0 1177.2,107.7 1174.9,106.6 1172.7,107.2 1169.3,107.0 1167.1,107.3 1164.7,107.4 1163.6,107.1 1159.5,107.3 1158.2,107.2 1155.9,107.0 1151.9,107.5 1149.5,107.3 1147.8,107.8 1145.1,107.5 1143.3,107.7 1139.9,108.0 1137.0,107.7 1135.4,107.7 1132.2,107.8 1129.7,107.5 1126.9,108.2 1124.7,108.2 1122.7,107.7 1120.4,107.9 1117.6,107.4 1115.0,108.2 1112.8,108.2 1110.9,108.0 1108.7,107.4 1104.9,107.1 1103.0,108.0 1101.0,107.9 1096.3,108.5 1094.2,107.6 1092.4,108.3 1089.7,108.1 1086.4,108.7 1085.0,108.1 1082.9,108.1 1080.1,107.8 1077.4,108.3 1075.6,108.1 1072.6,108.3 1070.3,108.2 1067.3,108.0 1065.7,108.3 1062.5,109.4 1060.5,108.5 1057.6,107.9 1055.7,108.2 1052.5,108.6 1050.6,108.3 1047.5,109.0 1045.3,107.9 1043.0,108.3 1040.0,108.5 1037.6,109.0 1035.1,108.4 1033.2,108.1 1030.6,108.3 1028.2,108.1 1025.3,107.8 1022.2,108.4 1020.3,109.1 1018.6,107.9 1014.5,108.9 1012.8,108.0 1010.3,108.1 1007.0,108.0 1004.8,109.3 1002.7,108.5 1001.5,108.3 997.4,108.4 995.3,108.4 993.4,108.4 990.3,108.6 987.0,108.2 985.0,107.7 982.5,108.5 980.1,108.5 977.7,108.4 975.4,108.0 973.0,108.2 970.3,108.4 967.2,108.3 965.8,108.2 961.8,108.6 960.2,108.6 956.9,108.3 955.5,108.2 952.9,108.8 950.1,108.1 948.6,108.6 945.1,108.4 941.9,108.5 940.1,108.3 937.6,109.0 935.3,108.5 933.1,108.9 930.5,108.3 926.4,108.9 925.0,108.5 922.8,108.4 919.6,109.2 916.6,108.9 915.6,109.2 912.7,108.8 909.5,108.6 906.2,108.4 905.0,108.6 902.2,109.1 899.1,108.7 897.3,108.7 895.0,109.4 891.9,109.2 890.8,108.7 887.1,108.3 884.5,109.5 881.2,108.9 879.6,109.4 877.7,108.3 874.7,108.9 872.6,108.5 869.8,108.7 867.8,108.9 865.1,108.6 863.0,108.7 859.5,108.7 857.3,108.8 853.8,109.4 852.9,109.4 849.8,109.2 847.6,108.9 846.1,108.7 842.8,108.3 840.3,108.9 836.9,108.8 833.7,108.6 832.6,108.1 830.6,109.3 827.1,108.5 824.2,108.6 822.1,109.8 819.3,109.3 818.2,108.7 814.8,109.2 812.1,109.4 811.3,109.0 807.0,109.2 805.2,108.7 802.4,109.0 800.3,109.4 797.2,108.5 794.0,109.6 792.3,108.9 791.5,109.4 791.3,112.9 789.5,115.5 790.2,118.4 790.0,121.7 790.5,123.2 789.9,126.4 789.1,129.7 790.0,132.0 789.1,133.7 789.8,136.7 788.9,139.4 789.3,142.1 789.0,144.9 790.8,147.8 788.7,150.7 788.6,152.0 788.0,154.3 789.5,157.1 787.9,159.8 788.6,162.1 788.3,165.0 788.9,167.2 788.8,170.1 788.8,172.3 787.7,175.3 788.7,177.3 787.8,180.2 789.4,182.6 789.6,185.1 788.3,187.7 788.6,189.5 788.1,193.0 787.1,195.3 788.4,198.4 788.9,200.4 789.2,202.6 787.2,206.1 788.4,207.8 788.7,211.1 788.4,213.2 787.2,215.4 790.0,217.4 791.9,218.8 794.9,220.1 796.0,222.7 798.2,223.3 801.4,224.4 803.8,226.0 804.5,227.5 806.7,228.9 810.2,230.4 812.7,231.9 813.4,232.8 816.1,233.8 818.9,235.3 821.4,235.6 823.3,237.4 826.8,238.7 828.0,240.0 830.9,240.5 832.8,241.8 835.3,242.6 837.5,243.7 839.5,245.1 842.7,244.8 845.0,246.7 847.5,247.2 848.7,248.7 852.6,248.4 854.7,250.5 857.5,250.6 859.3,252.4 863.2,253.5 864.7,254.5 866.6,255.4 868.0,256.4 870.8,258.5 873.4,259.6 876.2,260.4 877.8,262.3 881.1,263.1 884.2,264.4 885.1,265.1 887.2,267.5 888.1,267.9 890.3,270.3 892.1,272.3 894.7,273.7 896.3,276.2 899.3,277.9 899.8,279.4 901.1,280.1 904.7,282.8 905.9,284.8 908.3,286.1 909.3,288.0 911.5,289.6 912.0,292.1 914.2,292.8 916.9,294.7 918.7,297.4 921.0,298.1 922.2,300.0 924.1,301.8 924.1,303.7 926.4,306.6 927.9,308.9 928.1,310.6 929.5,313.3 932.0,314.5 933.2,317.2 934.3,319.5 935.2,321.3 936.5,323.3 937.7,326.1 940.0,327.8 940.0,330.8 942.3,332.4 944.0,335.2 944.7,336.0 946.0,339.1 947.1,342.0 948.5,343.8 949.5,346.3 952.1,346.3 955.1,346.1 957.7,345.5 959.7,346.2 962.3,346.6 965.5,345.9 968.2,346.1 970.3,346.6 971.8,345.9 975.0,346.2 976.5,346.5 980.1,346.4 982.7,346.6 984.5,346.5 987.3,346.2 989.5,346.8 991.0,346.2 995.4,346.3 997.1,346.8 999.4,346.4 1002.8,346.3 1004.7,346.5 1008.1,346.1 1010.3,346.4 1012.3,346.0 1016.1,346.6 1017.7,346.3 1021.0,346.2 1021.9,346.1 1025.0,346.5 1026.3,346.5 1030.2,346.7 1032.3,346.9 1036.2,346.1 1037.4,346.7 1040.7,346.3 1043.2,345.8 1045.6,346.4 1048.1,346.5 1050.4,346.1 1053.3,345.5 1055.2,346.0 1058.7,345.8 1060.1,346.2 1063.0,346.2 1064.4,346.1 1068.2,346.5 1069.6,345.7 1071.7,346.1 1074.9,346.0 1077.2,346.2 1080.8,346.5 1082.3,346.4 1084.9,346.6 1088.1,346.4 1091.4,346.4 1093.1,346.6 1094.4,345.9 1097.3,346.3 1100.0,345.6 1102.1,346.0 1105.0,346.0" fill="none" stroke="#9dc3e6" stroke-width="2.3" stroke-linejoin="round" stroke-linecap="round"/>
<polyline points="1040.0,100.3 1037.6,100.8 1034.3,100.8 1032.3,100.4 1031.5,100.7 1027.5,100.9 1025.9,100.7 1023.0,100.5 1019.7,100.7 1016.4,100.4 1013.7,101.0 1012.4,101.0 1010.1,100.7 1007.4,101.4 1005.6,101.1 1002.2,100.7 999.6,100.7 996.4,102.0 993.2,102.0 992.8,101.7 990.4,102.1 988.3,101.9 984.5,101.9 981.7,102.2 979.4,102.7 976.0,102.0 974.2,101.8 974.0,101.8 969.8,102.5 968.8,102.1 965.9,102.6 962.4,102.8 960.5,102.7 957.4,103.3 956.5,102.5 953.7,103.7 949.6,103.6 947.1,104.2 945.2,103.6 942.3,103.7 939.9,103.6 939.1,103.3 932.1,104.1 932.4,104.3 929.8,104.2 927.8,104.7 924.6,104.4 924.1,104.8 919.2,105.5 918.1,104.6 914.1,105.0 911.8,104.6 909.0,104.9 908.4,105.0 903.8,105.5 902.6,105.7 901.0,105.4 897.4,105.6 894.1,105.9 893.6,105.8 889.8,105.8 886.9,105.7 884.7,105.7 882.2,105.6 880.3,106.2 876.6,105.5 875.0,106.8 871.9,106.3 869.5,106.8 866.8,107.0 864.8,107.1 862.5,106.8 858.8,106.7 857.3,107.2 855.2,106.9 852.8,107.5 849.9,107.1 847.2,107.7 845.4,107.1 842.8,107.4 839.4,108.1 838.2,107.5 835.1,108.0 832.0,107.9 830.5,107.4 827.8,108.4 825.4,107.8 822.8,108.1 820.5,108.7 817.7,108.4 814.5,109.0 811.8,109.0 810.4,108.9 809.4,109.1 806.7,108.5 800.7,109.7 800.5,109.4 797.5,109.0 794.5,109.4 792.3,110.2 790.0,110.1 789.4,112.3 790.1,114.9 790.9,117.2 791.4,119.7 790.6,122.2 791.0,125.0 790.0,127.8 789.1,129.6 787.9,132.9 788.9,134.8 789.3,138.2 787.9,140.1 788.9,142.7 787.7,144.9 789.7,148.0 790.3,149.7 789.0,152.5 787.8,154.5 789.5,157.6 788.7,160.4 787.9,162.7 788.7,165.0 789.0,167.6 788.8,170.1 790.1,172.4 789.3,175.2 788.2,177.8 787.7,180.4 787.7,182.3 788.6,185.3 789.0,187.8 788.0,189.7 788.6,192.6 787.3,195.3 788.2,197.2 788.4,199.5 787.3,204.1 788.9,205.5 791.2,207.3 793.8,208.6 795.3,209.9 799.4,211.7 799.3,213.3 803.6,214.4 806.1,215.6 807.2,217.7 810.6,219.0 811.0,219.3 814.5,220.7 816.4,222.1 819.6,224.1 821.5,225.1 823.4,226.3 826.0,227.8 828.4,228.8 832.0,230.3 834.0,231.8 834.7,232.0 838.8,233.6 840.3,234.8 842.8,235.7 845.1,237.1 847.6,237.6 850.7,239.8 851.2,240.6 855.0,242.2 857.3,243.6 859.6,244.0 861.4,245.7 863.7,246.9 867.4,248.0 869.7,248.9 871.1,249.9 873.0,250.7 875.3,252.0 876.9,253.6 880.7,254.6 883.8,256.2 885.8,256.8 886.3,258.5 890.2,259.9 892.8,261.4 894.8,262.6 896.8,262.9 899.6,265.5 900.6,267.3 903.3,268.8 905.9,271.0 907.0,272.9 910.1,275.1 911.1,277.4 915.1,279.6 914.5,280.6 916.0,282.4 919.9,283.6 920.1,285.8 923.8,287.2 925.1,288.4 926.7,291.1 929.3,293.3 930.2,293.7 933.4,296.0 935.2,298.3 937.6,300.1 940.3,300.6 941.2,303.5 943.1,304.7 945.5,305.9 948.9,308.0 949.5,309.5 950.7,310.5 954.6,312.4 955.2,314.2 958.0,316.3 960.2,317.6 960.8,319.5 962.7,321.9 965.8,323.8 966.6,325.1 968.7,326.9 969.4,328.8 970.1,332.3 970.8,333.7 972.7,337.2 975.2,338.9 973.5,341.5 973.0,344.1 973.4,346.1 973.1,349.1 972.8,351.4 974.1,355.0 973.0,356.7 973.5,359.4 972.4,362.5 974.2,363.2 976.5,364.7 978.8,366.7 982.2,368.2 983.0,369.1 985.0,370.7 985.7,374.3 986.7,376.9 986.6,380.0 988.1,382.7 989.3,386.0 990.0,388.2 992.1,391.5 993.5,394.2 993.3,397.1 993.2,399.4 993.2,403.2 992.0,407.0" fill="none" stroke="#2e75b6" stroke-width="2.3" stroke-linejoin="round" stroke-linecap="round"/>
<polyline points="977.0,362.0 979.6,362.0 981.8,362.3 984.6,362.1 987.1,362.6 989.8,362.5 992.0,361.8 994.4,361.9 996.5,362.6 999.7,362.0 1002.3,361.9 1004.7,362.3 1006.8,362.7 1009.7,362.2 1012.0,361.8 1015.1,361.8 1017.1,362.2 1020.1,361.1 1022.6,362.1 1025.0,361.6 1027.4,362.6 1029.8,361.8 1032.2,361.8 1035.0,362.1 1037.2,362.3 1039.6,361.5 1042.9,361.8 1045.2,362.0 1047.4,362.2 1049.7,361.7 1052.4,361.9 1055.1,362.7 1057.2,361.7 1060.1,362.2 1062.7,361.7 1065.0,362.0" fill="none" stroke="#2e75b6" stroke-width="1.8" stroke-linejoin="round" stroke-linecap="round"/>
<polyline points="958.0,321.0 960.9,321.1 963.5,321.7 966.1,321.0 969.4,321.2 972.0,321.0" fill="none" stroke="#2e75b6" stroke-width="1.8" stroke-linejoin="round" stroke-linecap="round"/>
<polyline points="976.0,346.0 976.6,349.0 977.5,351.5 977.8,354.3 979.9,357.3 980.6,360.1 980.7,362.6 980.0,365.3 981.8,367.7 981.0,369.4 982.0,372.3 983.2,375.0 983.8,377.3 984.2,380.1 984.1,383.1 985.3,385.4 985.4,387.2 986.3,390.0 987.6,392.6 988.0,395.0" fill="none" stroke="#6a9fd0" stroke-width="2.0" stroke-linejoin="round" stroke-linecap="round"/>
<polyline points="1195.0,109.6 1194.1,109.4 1190.3,109.7 1188.1,109.1 1184.7,109.4 1181.7,109.4 1179.6,109.6 1176.9,109.8 1174.6,108.6 1173.3,109.6 1169.5,109.8 1167.7,109.7 1164.4,109.8 1161.4,110.2 1159.1,109.7 1157.5,109.8 1154.8,109.9 1150.0,109.7 1149.8,109.6 1148.5,109.4 1144.9,109.1 1142.6,109.2 1138.8,110.6 1137.9,109.8 1135.0,109.3 1131.7,110.0 1128.4,109.9 1126.2,109.9 1124.1,110.5 1123.1,109.7 1118.6,109.6 1117.4,109.5 1115.1,110.2 1112.4,109.7 1110.5,109.8 1108.0,109.8 1106.1,109.8 1101.7,110.0 1099.5,109.6 1097.3,110.2 1093.4,109.9 1092.3,109.9 1090.5,109.5 1087.9,109.8 1085.0,109.8 1082.2,109.7 1080.2,110.6 1078.2,110.2 1075.3,109.7 1072.9,110.6 1069.0,110.1 1068.2,109.9 1065.5,110.3 1064.0,110.3 1061.1,109.9 1058.0,109.9 1055.2,109.6 1052.9,110.3 1049.8,109.9 1047.9,109.8 1045.6,109.9 1041.6,109.4 1040.5,110.0 1038.2,109.8 1035.1,109.2 1033.5,109.4 1030.7,109.3 1027.0,109.8 1024.7,109.4 1023.1,109.9 1020.3,109.6 1016.9,109.5 1014.6,109.6 1013.0,109.6 1009.4,109.4 1008.4,109.7 1005.2,109.7 1002.9,109.7 1000.8,109.9 995.5,109.5 997.1,109.0 992.6,109.8 990.0,109.8 986.6,108.8 984.9,108.9 981.7,109.3 980.2,109.0 977.2,109.1 974.9,108.6 972.9,109.0 970.1,109.0 966.7,108.6 964.6,109.1 962.9,109.3 961.1,108.3 956.7,108.6 954.8,108.3 951.8,108.5 950.1,108.3 947.7,107.8 943.4,108.0 942.1,107.8 940.7,107.9 938.6,107.9 935.5,107.9 933.1,107.3 930.8,107.7 926.8,107.8 925.2,107.9 923.0,107.5 918.9,107.9 918.5,107.5 915.3,107.6 911.9,107.4 910.0,106.7 907.8,107.1 906.2,107.3 901.4,106.2 899.9,106.7 896.8,106.2 894.9,106.2 892.0,106.9 890.2,106.2 886.7,106.4 886.2,106.3 883.7,106.3 879.9,106.8 877.0,106.6 874.1,106.8 873.3,106.4 870.1,106.5 866.0,107.6 865.4,106.9 862.8,106.7 861.7,106.0 857.3,106.5 854.9,106.9 852.0,106.2 849.2,106.9 848.2,107.0 846.1,106.5 843.2,107.0 839.9,106.5 838.1,106.5 834.8,106.4 833.7,106.8 829.6,106.7 827.3,106.8 823.8,106.4 822.9,107.2 819.3,106.9 817.1,106.1 814.8,106.5 813.1,106.8 810.0,106.4 807.6,106.2 805.2,107.4 801.6,107.2 801.0,106.9 798.3,107.0 794.7,106.3 791.7,106.5 791.7,107.1 789.9,110.5 793.7,110.8 796.0,111.9 797.5,111.5 800.0,111.5 803.0,114.6 805.6,116.4 807.0,116.4 809.3,116.3 813.0,117.6 815.0,117.0 816.2,117.3 819.4,117.0 821.5,117.8 824.7,118.2 822.0,118.2 820.4,118.6 817.0,119.0 813.8,118.3 810.3,118.3 808.2,118.9 810.8,120.3 812.2,121.1 816.1,122.0 818.3,122.9 819.3,123.9 821.2,124.5 824.6,125.0 826.6,124.8 830.2,124.9 827.3,125.2 823.2,125.5 820.6,126.2 818.2,126.9 817.0,129.7 815.7,132.9 819.8,133.0 821.8,134.2 824.0,134.6 826.7,135.9 830.5,135.9 831.5,136.2 829.0,136.5 825.9,136.7 823.0,137.1 821.9,136.8 816.9,137.8 815.6,137.9 812.9,140.7 810.4,143.5 808.5,146.7 808.1,149.8 809.7,152.2 809.6,155.7 811.2,158.6 813.4,160.5 812.7,162.5 813.9,165.4 813.5,167.4 810.7,169.0 808.7,172.5 807.7,175.7 811.2,177.1 815.6,177.9 816.2,179.1 821.0,180.8 823.1,181.1 824.3,183.6 827.6,185.3 828.1,187.6 829.9,189.3 833.1,190.5 835.0,192.7 838.0,193.8 840.3,194.9 842.8,196.7 845.0,198.4 847.5,199.8 850.0,201.3 852.0,202.3 854.2,204.4 857.6,205.3 859.9,206.1 861.7,207.5 862.6,208.8 865.5,210.6 867.8,211.1 871.3,212.5 871.8,213.9 874.5,215.6 876.5,216.0 877.5,217.2 883.0,218.6 883.2,220.0 885.9,221.1 890.1,223.1 891.7,224.1 892.1,224.1 895.5,226.1 897.6,227.0 900.7,228.2 902.9,229.2 905.1,229.9 908.9,230.9 911.9,232.2 913.0,233.4 915.0,233.9 917.4,235.0 920.5,236.7 922.7,236.6 924.1,237.4 927.5,239.3 929.8,240.1 932.5,241.2 935.1,242.1 936.5,243.3 940.7,243.4 942.2,244.6 945.3,245.9 948.5,247.4 949.7,247.8 951.9,249.5 954.0,250.8 956.0,252.4 959.7,252.9 961.1,254.7 964.2,255.0 966.5,257.9 968.3,258.2 971.9,260.1 973.5,261.4 974.9,262.2 977.4,263.2 980.4,264.4 984.2,266.2 986.0,266.6 987.6,268.3 990.3,269.8 992.0,270.5 995.7,272.8 998.9,273.1 999.2,274.4 1002.5,276.2 1004.3,276.5 1007.6,277.7 1008.6,279.3 1011.5,279.9 1013.8,281.3 1015.8,282.7 1018.4,284.4 1019.6,286.4 1021.3,287.8 1024.4,288.9 1026.1,290.0 1028.2,291.6 1028.9,294.3 1030.5,296.5 1032.8,299.1 1034.3,301.4 1035.0,303.1 1037.5,305.9 1038.8,307.6 1039.2,309.7 1042.5,311.6 1043.2,314.2 1045.3,315.7 1048.1,318.1 1048.5,320.3 1049.8,322.2 1051.6,323.7 1052.7,326.1 1055.1,327.9 1056.3,329.9 1058.9,332.4 1059.8,334.1 1060.3,335.6 1062.8,337.7 1065.5,339.3 1066.8,342.2 1069.6,343.8 1069.8,346.5 1071.7,347.7 1072.2,349.6 1074.0,352.2 1076.5,354.2 1077.6,356.4 1077.9,358.2 1080.7,359.9 1080.2,362.5 1081.8,365.1 1081.3,367.2 1084.9,370.2 1084.2,372.0 1085.0,374.2 1085.7,377.0 1086.5,379.6 1088.9,381.9 1089.7,384.5 1090.9,387.5 1091.3,389.9 1093.0,392.5 1092.5,394.6 1093.3,396.5 1095.9,399.8 1096.9,402.3 1095.6,404.7 1095.6,407.7 1094.3,410.0 1095.6,412.7 1096.8,414.9 1097.0,418.1 1094.9,421.0 1095.2,422.4 1096.7,425.3 1096.2,428.1 1095.3,431.3 1097.0,433.4 1097.1,436.0 1093.2,437.9 1089.1,439.9 1090.7,442.8 1092.8,445.1 1094.9,448.1 1097.8,448.0 1098.8,448.0 1101.8,448.3 1104.2,449.1 1107.3,448.3 1109.6,448.6 1111.7,448.7 1114.5,449.1 1117.0,449.0" fill="none" stroke="#1f4e79" stroke-width="2.4" stroke-linejoin="round" stroke-linecap="round"/>
<polyline points="1273.0,98.6 1272.8,99.0 1265.4,97.9 1265.3,98.9 1262.7,98.1 1259.5,99.2 1255.3,99.0 1256.4,98.9 1254.4,98.5 1250.2,99.3 1247.2,98.6 1242.8,98.6 1244.3,99.2 1241.6,99.0 1239.0,98.9 1237.3,98.7 1234.9,98.8 1227.4,98.4 1227.5,98.7 1223.1,98.6 1223.2,99.0 1222.0,98.6 1218.6,99.2 1216.0,99.5 1211.9,98.9 1210.7,98.8 1207.7,99.0 1205.2,98.8 1202.0,98.9 1197.4,99.0 1195.7,98.9 1193.2,99.0 1192.1,98.9 1188.9,99.1 1190.7,98.4 1186.2,99.1 1182.0,98.6 1183.2,99.1 1179.6,99.0 1173.8,99.5 1174.1,99.0 1169.8,99.3 1166.2,98.9 1165.1,99.5 1164.3,99.2 1162.7,99.1 1156.8,100.0 1154.2,99.4 1153.7,99.3 1150.6,99.5 1148.7,99.1 1145.2,99.7 1144.0,99.1 1140.2,99.0 1135.2,99.1 1138.1,99.1 1129.0,99.3 1128.8,99.6 1129.9,99.2 1125.3,99.1 1124.8,99.1 1120.1,100.2 1115.9,99.5 1115.0,99.6 1113.4,99.9 1111.0,99.7 1105.3,99.6 1102.6,99.9 1102.4,99.8 1099.1,99.6 1097.6,99.9 1094.7,99.7 1091.7,99.9 1088.1,99.9 1084.6,101.1 1083.3,100.3 1084.0,100.9 1079.4,101.4 1080.5,100.9 1077.1,101.6 1074.1,101.4 1072.5,102.2 1062.1,102.4 1066.8,101.7 1062.4,102.3 1059.6,102.2 1057.8,103.0 1053.9,102.9 1048.4,103.3 1046.6,103.3 1045.0,104.4 1043.9,104.2 1041.3,103.9 1040.2,104.0 1040.6,104.2 1036.7,104.0 1029.5,104.8 1026.0,105.5 1027.0,105.0 1026.8,104.9 1019.6,104.2 1014.8,105.0 1012.0,105.4 1015.2,105.4 1007.8,105.0 1005.7,105.6 1007.7,105.3 1003.3,105.5 1002.1,105.1 996.4,105.8 996.6,105.7 993.2,105.8 991.4,105.4 991.2,106.0 985.0,105.7 981.6,105.3 978.5,105.3 976.7,106.0 975.2,105.4 972.5,105.7 968.2,106.4 965.8,106.3 962.1,106.2 961.4,106.4 960.9,105.9 958.8,106.6 957.6,106.8 951.9,107.0 948.9,106.3 944.6,106.3 942.2,106.5 939.1,107.1 941.4,107.1 939.6,106.6 935.7,106.7 928.8,106.2 929.0,107.0 924.6,106.8 923.6,107.0 923.6,106.5 917.5,107.4 919.1,106.9 916.1,107.0 912.9,106.9 912.1,112.1 916.4,112.0 916.6,111.9 918.1,111.5 921.9,111.3 924.6,111.1 929.9,112.1 930.1,111.6 931.0,111.7 931.6,111.8 935.7,112.3 942.6,112.5 940.0,111.5 947.7,112.2 949.5,112.1 950.5,112.5 954.2,112.0 953.2,111.8 960.1,111.9 961.8,111.5 963.9,111.4 964.7,111.9 965.8,111.4 959.6,111.4 957.2,111.5 956.7,111.6 952.5,111.7 946.7,111.5 951.3,111.1 943.9,111.6 944.4,111.4 938.0,112.0 933.1,111.2 933.6,110.7 935.1,112.2 927.2,111.4 927.1,111.7 924.7,111.7 923.4,111.5 920.1,112.0 917.9,111.7 915.0,111.8 920.6,112.2 919.1,112.5 924.5,113.1 925.9,114.9 928.0,114.8 930.1,114.2 933.7,114.1 930.5,114.5 936.2,114.7 943.9,115.0 939.7,115.1 941.8,114.3 951.7,114.8 946.0,115.3 952.3,115.6 954.9,115.5 959.4,115.6 958.8,115.9 961.7,116.3 965.4,116.0 967.0,116.4 972.3,116.2 968.6,116.7 973.9,116.8 976.7,116.9 979.9,116.6 980.4,116.9 985.7,116.5 983.3,117.3 994.6,117.1 992.5,117.1 993.1,118.1 994.9,117.8 999.1,118.1 1006.1,118.1 999.9,118.7 997.4,117.9 998.0,118.6 993.3,119.9 992.1,119.5 991.0,119.3 982.0,119.5 982.9,120.3 978.8,121.2 979.2,120.8 973.7,121.0 978.1,121.5 985.6,123.0 983.8,123.0 981.7,124.1 986.2,124.7 990.9,124.5 987.7,125.4 984.6,126.0 982.8,126.4 981.7,127.2 977.3,127.5 974.4,127.9 972.3,128.6 969.5,128.3 967.7,129.2 965.0,130.9 964.5,129.7 956.6,131.4 956.0,130.9 951.5,131.8 950.8,132.3 949.2,132.7 946.4,132.9 946.0,134.1 940.4,134.0 943.4,134.0 934.7,135.1 936.1,135.3 934.0,135.7 929.6,136.1 927.2,136.6 926.8,137.3 924.9,138.2 917.9,139.3 916.3,140.9 913.9,142.1 913.2,142.8 907.3,145.0 906.5,146.4 904.8,146.5 900.8,148.0 905.8,148.8 893.8,150.4 896.1,152.8 895.3,152.6 893.7,154.3 886.8,155.0 886.1,155.6 881.8,156.4 880.9,157.3 879.7,160.1 872.9,162.4 873.7,164.9 871.3,167.4 872.6,170.1 871.2,172.0 868.9,175.7 869.8,178.2 870.6,178.8 870.5,178.9 875.4,180.6 877.8,180.9 880.5,182.4 882.2,182.6 886.6,183.8 889.3,184.0 890.1,184.6 893.0,186.5 896.1,187.2 895.9,188.4 901.8,189.9 903.6,191.1 907.4,192.1 908.6,192.5 911.0,194.3 912.6,195.3 913.9,196.4 916.6,197.6 921.1,199.1 921.7,200.2 923.5,201.4 924.4,203.0 927.1,203.6 930.0,206.0 935.1,206.5 936.0,207.7 938.6,209.6 943.0,210.1 939.1,210.8 945.2,212.0 947.9,213.2 950.4,214.5 950.9,215.0 953.5,216.3 954.7,217.6 961.1,218.6 960.3,219.4 964.0,220.9 966.1,222.5 968.6,223.4 969.9,223.8 971.4,224.6 978.2,224.6 976.4,225.7 980.4,226.5 977.8,226.6 986.3,227.6 985.7,228.4 990.5,228.8 992.2,229.3 996.3,229.5 991.1,231.4 995.4,232.5 1002.5,233.7 1002.8,234.9 1006.8,235.8 1009.3,236.8 1015.4,238.1 1014.7,239.3 1017.5,240.7 1019.1,241.9 1022.4,243.1 1026.3,244.3 1026.2,245.8 1028.3,247.1 1031.9,247.5 1033.1,249.4 1032.0,250.4 1034.5,252.5 1041.5,253.5 1041.3,254.4 1047.6,256.6 1046.3,257.1 1047.7,258.5 1047.8,259.6 1050.5,261.3 1055.2,262.7 1057.4,264.6 1060.5,266.6 1065.2,267.9 1062.2,269.0 1070.4,270.3 1067.3,272.6 1069.3,273.9 1074.9,275.5 1073.7,276.9 1076.1,278.9 1078.5,280.5 1079.4,282.6 1080.7,284.3 1084.7,285.6 1084.3,288.7 1087.3,289.9 1086.7,292.9 1091.7,294.1 1092.4,296.0 1094.8,297.7 1096.1,300.0 1097.7,302.3 1095.6,304.0 1100.9,306.1 1102.2,308.2 1105.9,309.9 1105.9,312.3 1106.8,314.4 1106.8,316.8 1109.6,319.3 1112.7,320.8 1112.9,323.7 1112.3,325.8 1113.9,328.2 1114.2,330.7 1115.3,332.9 1114.0,335.6 1111.9,338.1 1119.4,340.5 1120.1,343.1 1123.6,345.3 1122.9,347.7 1122.8,350.7 1125.9,353.5 1124.2,355.1 1128.0,358.0" fill="none" stroke="#f4b183" stroke-width="2.6" stroke-linejoin="round" stroke-linecap="round"/>
<polyline points="1273.0,99.0 1270.4,99.6 1267.4,98.4 1265.7,99.3 1263.3,99.3 1260.4,98.9 1257.4,99.1 1255.2,99.5 1253.5,98.8 1251.1,99.2 1248.9,99.8 1246.0,98.6 1243.5,98.7 1241.8,99.1 1237.8,100.0 1234.1,99.4 1232.1,99.2 1229.8,99.6 1227.7,99.6 1226.0,98.8 1224.1,99.4 1219.1,99.3 1218.6,99.9 1214.9,99.6 1213.1,99.9 1210.3,99.9 1207.2,99.3 1205.9,99.9 1202.9,99.9 1200.6,99.9 1198.8,99.9 1196.0,99.6 1192.4,98.9 1190.7,99.8 1188.3,99.1 1184.9,99.6 1181.4,100.1 1181.3,99.4 1178.2,100.5 1174.3,100.2 1174.1,100.6 1169.2,99.6 1168.0,100.4 1164.3,99.7 1161.9,100.4 1159.8,100.2 1158.3,100.5 1155.6,100.2 1153.7,100.3 1149.2,99.9 1148.5,100.2 1144.9,100.2 1145.4,100.2 1140.6,100.4 1137.5,100.6 1135.9,100.4 1131.6,100.7 1130.8,100.3 1125.5,100.3 1124.2,100.2 1122.2,100.0 1121.0,100.4 1118.7,100.0 1115.0,100.9 1112.9,100.2 1109.4,100.2 1107.5,100.7 1105.2,100.8 1103.3,100.6 1101.2,100.8 1097.4,100.7 1095.0,100.7 1091.3,101.1 1089.5,101.5 1086.8,101.5 1084.9,101.5 1082.4,101.6 1079.3,102.3 1077.4,102.2 1073.9,102.7 1073.7,101.8 1070.3,102.9 1067.8,103.4 1063.5,103.8 1061.3,103.3 1059.8,103.5 1056.9,103.6 1053.3,104.0 1050.7,104.6 1049.3,104.8 1045.5,103.8 1042.1,104.6 1040.3,105.0 1037.6,104.6 1036.5,105.1 1034.3,105.8 1031.5,105.2 1027.9,106.7 1025.9,106.1 1023.7,106.1 1020.9,105.9 1018.1,105.5 1017.4,106.2 1012.4,106.5 1011.5,105.8 1008.0,106.9 1006.3,106.6 1004.2,106.4 1000.6,107.1 998.2,106.5 996.3,106.6 992.3,107.3 990.7,107.3 988.7,106.4 987.0,106.7 982.5,106.8 978.9,107.0 977.6,106.8 974.9,107.2 973.4,107.4 972.0,107.1 968.1,107.2 964.9,106.9 963.6,106.9 958.9,107.1 958.2,107.8 954.9,107.0 953.0,107.3 950.6,107.2 948.0,107.2 946.2,107.6 943.3,107.4 939.1,107.6 937.7,108.0 936.1,107.7 932.7,107.4 930.2,107.8 927.4,107.4 926.2,107.5 924.0,108.3 921.4,107.6 918.1,107.5 914.8,107.5 916.0,110.4 918.9,113.4 920.3,113.1 922.4,112.9 924.2,113.4 928.7,113.3 931.0,113.3 932.5,113.6 936.5,113.8 939.0,114.0 940.0,113.5 943.0,114.0 946.7,114.7 947.1,114.9 951.4,113.7 952.7,115.0 954.8,114.8 959.2,115.5 961.9,116.1 963.5,117.2 967.3,117.5 969.4,117.4 972.6,117.5 975.3,118.1 973.2,119.6 970.1,121.2 968.7,122.6 965.6,124.1 966.0,125.7 969.3,127.5 966.8,128.0 964.7,129.0 962.7,130.0 957.8,130.3 956.1,130.8 953.2,131.1 950.3,132.1 948.0,133.0 944.0,132.7 942.8,134.0 941.5,134.3 938.8,135.1 935.9,134.9 933.0,135.3 930.0,136.2 927.2,136.6 924.7,136.6 921.2,138.6 919.7,140.0 917.0,141.0 920.0,141.9 923.7,143.4 925.6,143.7 927.6,145.1 926.5,145.5 923.1,146.3 920.7,146.6 917.3,147.6 915.7,147.5 913.2,147.8 909.5,148.2 908.6,148.9 906.0,149.4 902.0,150.2 900.4,150.7 899.9,151.5 895.5,152.3 893.1,153.4 889.4,154.4 887.2,154.8 885.5,155.6 881.4,156.9 879.8,157.4 878.8,160.0 875.5,162.4 874.0,165.1 870.3,167.0 870.7,169.3 867.9,171.1 866.3,173.6 864.1,175.6 863.4,179.0 862.2,182.4 862.9,184.6 865.3,186.3 867.7,187.1 870.3,188.3 871.7,190.4 876.9,191.4 879.9,192.0 879.9,192.1 884.1,192.9 885.5,193.9 888.7,194.2 890.9,195.6 891.8,196.6 896.6,196.7 900.0,198.1 901.5,199.5 901.6,200.0 907.1,201.5 908.8,201.9 910.7,202.9 913.2,203.2 916.0,204.6 918.5,205.8 920.8,207.9 923.3,209.5 925.0,211.5 927.4,213.3 930.9,215.3 931.7,216.3 933.3,216.5 937.6,218.5 939.0,218.5 942.2,219.4 942.8,219.7 946.4,219.9 950.2,221.2 951.1,221.4 953.6,221.8 956.1,222.9 958.9,222.9 960.8,223.8 963.1,223.7 966.1,225.3 968.1,225.4 971.0,226.3 973.9,226.0 977.4,227.0 977.5,228.2 980.5,230.0 982.5,230.7 986.1,232.9 987.0,233.7 989.8,234.9 991.0,236.7 993.1,237.0 996.7,239.4 999.2,240.1 1000.6,241.3 1002.6,242.1 1004.2,245.2 1005.9,247.0 1008.9,247.4 1011.4,249.4 1013.1,251.4 1014.3,253.1 1015.4,254.6 1018.1,257.2 1019.8,258.3 1022.6,260.4 1024.0,261.7 1025.3,264.2 1026.8,265.1 1029.7,266.6 1031.6,268.0 1034.8,270.1 1035.9,271.3 1038.2,272.9 1040.4,274.8 1042.4,275.5 1044.0,277.3 1046.4,279.2 1048.2,280.8 1050.8,282.9 1052.1,283.5 1053.8,286.6 1055.1,287.8 1059.4,290.3 1059.7,291.7 1060.0,294.1 1063.4,295.0 1064.3,297.6 1066.1,299.4 1069.8,301.4 1070.7,304.0 1071.2,306.0 1073.5,307.6 1074.3,310.3 1077.1,312.1 1077.1,313.4 1080.2,317.1 1080.4,319.4 1080.8,322.1 1083.0,324.8 1082.6,327.3 1083.6,329.7 1084.1,331.6 1085.2,335.1 1086.2,337.7 1087.2,340.1 1088.0,343.0 1088.9,345.0 1090.9,348.0 1089.9,350.5 1090.8,352.2 1091.8,355.4 1092.4,357.7 1094.4,359.9 1095.6,363.2 1097.6,364.7 1097.7,367.4 1098.6,369.8 1100.3,372.2 1101.0,375.0" fill="none" stroke="#ed7d31" stroke-width="2.4" stroke-linejoin="round" stroke-linecap="round"/>
<polyline points="1222.0,102.5 1221.6,102.1 1217.2,102.5 1213.5,102.4 1211.3,102.6 1209.7,103.0 1206.9,103.1 1204.6,102.7 1201.4,102.4 1197.5,102.7 1196.4,102.9 1194.3,102.4 1190.7,102.5 1189.9,102.8 1186.5,102.6 1182.6,102.7 1181.2,103.1 1177.2,103.1 1175.3,102.9 1173.3,102.9 1171.6,103.4 1168.9,102.9 1166.4,103.3 1164.3,103.3 1159.3,103.0 1158.0,103.6 1155.7,103.6 1153.6,102.9 1150.8,103.5 1148.6,102.9 1146.1,103.2 1141.1,103.2 1138.7,103.0 1139.5,104.4 1136.6,103.7 1134.8,103.7 1129.5,102.8 1128.8,102.9 1122.5,103.4 1122.9,103.4 1121.3,103.7 1117.9,103.9 1114.6,103.9 1114.9,103.5 1110.3,104.0 1107.0,103.9 1103.3,103.8 1102.5,104.3 1100.9,103.8 1096.3,104.7 1095.8,103.4 1092.1,103.9 1089.3,103.6 1087.0,104.1 1084.7,104.7 1082.7,104.0 1078.2,104.3 1078.6,104.9 1074.4,105.0 1072.9,104.5 1070.4,104.7 1066.3,104.6 1065.1,105.3 1061.4,105.0 1060.0,105.0 1056.2,105.5 1056.3,105.7 1052.9,105.7 1050.5,105.6 1047.1,105.4 1044.6,105.0 1042.0,105.0 1038.9,105.4 1036.9,106.3 1036.8,106.0 1033.3,105.4 1030.3,105.2 1026.8,105.6 1024.6,106.2 1021.7,106.8 1019.5,106.3 1015.9,106.4 1013.7,106.2 1012.5,106.5 1010.6,106.4 1007.3,107.0 1004.5,106.4 1002.0,106.5 999.0,106.3 998.0,106.4 995.4,106.5 993.9,106.7 991.7,107.0 987.3,107.3 986.2,107.6 983.9,107.4 978.8,107.5 977.4,107.4 976.3,107.1 973.8,108.3 970.5,107.4 968.9,107.7 966.0,108.2 961.0,107.9 958.4,107.6 958.1,107.6 954.3,107.9 952.8,108.3 950.4,108.1 946.7,108.5 944.1,108.1 943.2,108.2 939.1,109.0 937.4,107.9 934.2,109.5 935.3,108.7 930.7,109.2 927.8,108.4 926.0,109.2 922.2,108.6 919.3,109.2 917.2,109.5 914.6,109.8 913.1,109.1 909.4,109.8 906.9,110.2 904.4,109.9 903.1,109.5 901.2,109.9 896.7,109.9 893.3,109.8 894.0,110.3 889.7,110.6 888.0,110.3 884.7,110.8 883.5,110.9 881.6,110.9 877.1,110.6 874.9,111.5 872.2,111.3 869.0,111.3 867.0,111.6 866.0,111.9 863.4,112.3 859.5,112.5 857.4,111.8 854.1,112.5 850.6,113.5 849.5,113.3 845.7,113.3 844.6,113.2 842.0,113.7 839.5,113.6 837.1,114.1 833.1,113.7 836.3,114.6 841.4,114.5 843.1,115.6 844.5,115.5 847.2,115.1 850.6,115.7 851.0,116.1 851.6,115.8 855.7,116.0 860.0,117.3 862.0,116.9 864.9,117.2 867.4,118.0 869.7,118.1 872.7,118.7 875.9,118.5 876.8,119.3 881.1,119.4 884.5,120.8 885.2,121.1 886.5,121.1 889.7,121.9 894.8,122.2 890.9,122.6 889.5,123.8 887.4,124.4 884.7,126.2 879.6,126.5 878.7,127.1 875.1,127.6 873.2,127.9 869.9,127.8 869.9,127.9 866.6,129.3 864.9,128.7 863.8,129.2 860.0,130.1 856.2,130.3 851.2,130.4 851.6,130.5 849.0,131.3 852.3,131.1 854.7,132.2 856.5,132.3 856.4,132.0 861.8,132.4 864.7,133.8 865.4,133.4 868.7,134.2 872.2,134.5 873.9,134.6 871.5,135.1 869.6,136.0 864.2,136.3 862.1,137.0 859.5,137.5 858.9,138.1 855.5,137.9 853.8,137.9 849.8,138.6 847.1,138.6 842.9,138.9 843.3,139.8 845.2,140.6 847.0,141.7 847.6,141.9 851.8,142.3 853.6,142.8 856.7,144.3 859.8,144.5 863.0,145.5 866.9,146.0 863.2,146.6 859.7,146.9 859.6,147.1 854.3,147.2 852.6,148.4 849.4,148.5 848.4,149.1 845.2,149.4 843.2,150.3 844.3,150.5 849.6,151.0 848.6,151.2 852.8,152.8 854.7,153.0 857.3,154.0 858.7,154.9 858.2,156.4 855.4,158.2 854.1,159.3 852.5,161.1 855.3,162.5 857.6,163.3 860.7,165.1 861.4,166.4 865.0,166.9 867.9,168.2 872.0,169.5 874.6,170.8 875.3,172.7 878.1,172.8 879.9,173.9 883.0,175.3 884.5,176.8 885.4,178.1 891.0,178.9 891.1,180.6 895.2,181.4 896.6,183.1 899.8,183.9 903.6,186.2 902.2,186.4 906.3,187.7 907.7,189.5 909.8,190.9 913.0,192.5 915.4,194.6 918.5,195.9 921.7,197.3 922.8,199.6 924.1,200.8 925.5,201.8 928.1,203.6 930.3,205.2 932.2,206.4 933.3,207.9 936.3,209.3 937.5,211.0 941.9,212.0 942.7,213.6 945.2,214.4 948.3,215.6 950.2,216.9 952.9,218.5 955.4,219.8 957.3,221.1 960.0,222.0 960.3,223.7 963.9,224.9 967.4,226.5 969.4,227.7 969.1,228.5 973.8,230.3 974.5,232.1 978.9,233.1 980.7,234.2 980.8,235.1 985.0,236.5 985.7,238.5 988.7,239.3 990.0,241.1 993.7,242.8 993.7,244.9 996.6,246.0 998.8,247.2 1001.3,248.4 1001.3,249.9 1005.3,251.5 1007.8,253.3 1009.1,254.9 1011.3,256.1 1012.7,257.7 1014.9,259.8 1018.5,261.5 1019.2,262.9 1021.2,264.4 1023.0,266.2 1024.9,267.3 1027.0,270.0 1027.9,272.1 1031.1,273.1 1034.3,274.7 1037.7,276.5 1038.1,279.0 1040.0,280.4 1040.7,282.1 1043.7,284.2 1043.5,285.9 1046.7,287.2 1049.8,289.0 1052.6,290.4 1054.4,292.5 1055.6,294.7 1056.6,296.8 1062.0,298.3 1061.1,300.9 1065.6,301.5 1065.6,303.8 1068.1,306.0 1068.4,308.1 1071.9,310.2 1072.4,313.0 1075.3,315.1 1075.3,316.9 1076.7,319.9 1078.3,322.2 1078.8,324.3 1080.5,326.0 1081.5,328.9 1084.1,330.7 1084.7,333.3 1085.3,335.8 1086.7,337.7 1087.0,340.0 1086.8,342.6 1088.1,345.1 1088.6,347.5 1090.4,349.7 1088.3,353.2 1091.6,355.1 1093.4,357.9 1094.4,360.3 1094.6,362.6 1094.7,364.8 1092.3,367.8 1096.6,369.4 1098.7,371.9 1098.9,374.3 1098.4,377.4 1100.5,378.9 1102.0,382.2 1102.0,384.5 1104.5,387.1 1104.7,389.4 1106.6,391.6 1105.7,393.9 1110.2,395.9 1108.2,397.9 1109.2,400.7 1110.3,403.3 1112.9,405.4 1111.7,407.5 1113.6,409.7 1114.6,412.4 1116.0,415.1 1115.3,416.8 1119.0,418.6 1116.6,422.3 1119.4,424.4 1119.9,426.5 1117.9,430.0 1119.3,431.6 1119.3,435.3 1118.7,436.8 1120.0,440.0" fill="none" stroke="#a9d18e" stroke-width="2.6" stroke-linejoin="round" stroke-linecap="round"/>
<polyline points="1217.0,101.0 1212.7,101.0 1212.7,101.0 1209.5,100.6 1206.6,101.0 1205.3,101.3 1201.7,101.0 1198.3,101.3 1198.0,100.7 1191.2,102.1 1193.3,101.7 1189.4,101.3 1186.1,101.1 1184.6,101.5 1179.4,101.4 1178.3,101.4 1178.4,102.1 1170.5,101.9 1172.4,102.3 1169.5,101.1 1167.1,101.9 1165.2,102.1 1159.5,102.7 1157.3,102.4 1156.5,101.9 1151.1,101.8 1149.9,102.1 1148.1,102.8 1146.3,102.7 1142.0,102.1 1141.7,102.7 1138.9,102.2 1134.5,103.1 1132.4,102.3 1132.2,102.5 1127.3,102.8 1125.2,103.1 1122.8,102.3 1123.0,103.1 1118.0,102.7 1113.9,102.5 1111.4,103.1 1111.5,102.7 1107.1,103.0 1105.1,103.1 1103.1,103.1 1100.7,102.6 1098.3,102.3 1095.1,103.0 1092.9,103.1 1090.3,102.6 1086.9,103.0 1085.4,103.4 1082.0,103.2 1079.2,103.4 1077.9,103.8 1074.8,103.2 1071.6,103.9 1068.9,103.6 1065.0,104.1 1065.0,103.6 1062.2,104.1 1059.8,104.1 1057.5,103.6 1053.1,104.5 1051.9,104.6 1051.2,104.1 1046.8,104.1 1046.7,104.4 1042.2,104.7 1039.0,104.3 1036.9,104.5 1033.6,104.4 1032.6,104.3 1028.9,104.9 1026.4,104.7 1025.8,104.9 1024.4,104.9 1018.4,105.1 1017.7,105.3 1013.5,105.1 1013.6,105.3 1011.1,105.0 1008.0,105.3 1006.6,105.0 1003.7,105.5 1000.0,105.3 996.3,105.1 995.3,105.4 993.7,106.0 990.5,106.4 987.4,106.4 983.2,106.0 983.5,106.3 981.7,106.5 976.6,107.1 975.1,106.6 972.4,106.5 969.6,107.2 966.8,107.0 964.2,107.2 963.0,107.5 959.6,107.2 957.8,107.9 955.7,108.7 952.6,107.6 949.7,108.3 946.5,108.0 943.3,108.1 943.2,108.6 940.6,108.8 936.8,109.1 936.8,108.0 931.3,109.0 930.8,109.4 927.7,108.6 924.3,109.6 922.5,108.6 919.8,109.6 917.5,109.7 915.5,109.6 911.4,109.7 910.7,109.5 908.6,110.5 905.8,110.0 902.6,109.6 901.6,109.9 896.8,110.7 896.1,109.9 892.8,110.3 890.9,109.6 886.5,109.8 885.2,110.1 883.0,111.1 880.6,110.2 877.4,110.7 873.2,111.1 872.8,111.0 871.3,110.8 868.9,111.0 864.0,110.9 862.5,111.2 861.9,110.5 857.5,110.9 855.2,111.6 854.2,110.8 850.2,112.0 846.7,111.9 845.5,112.3 843.0,111.1 838.9,112.0 837.2,112.0 836.2,111.8 832.6,112.7 828.1,112.6 832.3,112.6 837.3,112.9 838.4,113.1 839.2,113.8 843.9,114.0 845.9,114.4 848.9,114.8 850.6,115.3 853.4,115.4 855.1,115.7 857.6,116.5 860.4,116.8 862.4,117.3 863.8,117.4 869.1,118.2 868.1,118.5 872.5,119.0 873.6,119.3 879.3,120.1 880.9,121.1 881.7,121.4 885.1,121.5 887.7,122.5 890.2,122.8 887.0,123.8 884.2,124.9 883.1,125.4 880.0,126.3 878.0,126.8 875.9,127.9 874.7,127.9 869.6,129.2 867.7,128.4 863.8,128.7 861.5,128.8 859.2,129.4 856.7,129.7 852.0,130.2 850.5,130.3 847.0,130.8 846.3,130.9 847.9,131.4 852.3,132.1 852.1,132.7 855.8,133.5 858.1,134.4 862.0,135.7 862.5,135.6 865.3,136.7 869.6,137.3 865.3,137.5 862.0,137.8 860.6,138.0 858.1,139.1 855.1,139.2 852.8,138.8 851.2,139.5 846.3,140.4 845.6,140.9 843.3,141.6 840.8,141.9 838.5,141.6 840.6,142.7 843.2,143.1 845.2,144.2 848.3,143.9 851.5,144.9 852.8,145.3 852.7,145.0 857.0,146.9 860.6,146.5 858.2,148.2 853.5,148.0 850.6,148.5 847.5,149.2 847.0,150.2 845.0,151.1 841.2,150.6 839.1,152.0 840.6,153.2 843.7,153.8 847.5,155.0 847.7,154.8 851.8,156.5 856.5,156.9 852.6,159.2 849.9,160.4 848.9,162.3 850.0,163.5 852.4,164.2 853.6,165.9 858.8,167.0 859.4,168.2 861.3,169.0 865.0,170.0 867.9,171.1 869.0,172.4 872.4,173.9 872.6,174.2 878.4,175.6 880.1,176.8 880.1,177.6 882.4,179.4 883.7,179.8 888.2,181.3 889.5,182.2 891.6,183.3 896.7,184.8 897.6,186.0 899.5,186.1 903.4,187.4 904.0,189.8 904.8,191.3 908.0,192.3 911.0,194.1 912.5,195.7 916.3,197.2 916.6,198.9 919.5,199.9 922.0,201.8 924.3,203.5 925.9,204.7 928.8,206.7 930.5,208.2 934.0,209.1 933.6,210.8 935.8,211.6 939.4,213.4 942.3,213.6 941.7,215.2 943.7,217.2 948.2,217.5 950.1,219.9 953.0,220.9 952.7,222.1 955.4,223.3 959.1,224.9 960.9,225.7 964.9,227.2 965.2,229.0 967.5,230.0 969.9,231.0 971.9,232.6 974.0,233.9 976.2,235.8 978.1,236.4 981.0,238.3 982.8,239.7 985.2,241.3 987.3,241.7 987.4,244.4 990.3,245.9 994.1,246.2 996.7,248.0 998.2,249.5 998.4,251.1 1001.4,252.6 1003.8,254.6 1004.9,255.9 1007.9,256.6 1010.7,259.0 1012.8,260.3 1015.4,262.5 1015.6,264.1 1015.8,265.6 1019.4,267.3 1023.0,269.1 1023.8,271.7 1028.0,271.9 1028.7,274.1 1029.2,275.7 1030.9,277.7 1034.3,279.8 1037.8,281.5 1039.4,283.7 1040.0,284.6 1043.0,286.6 1045.3,289.0 1045.4,290.8 1049.0,292.0 1053.7,293.3 1051.5,295.7 1054.8,297.1 1057.0,298.6 1059.0,300.7 1060.4,302.6 1063.2,304.2 1065.9,306.0 1066.7,308.0 1067.1,309.9 1068.4,312.6 1070.7,314.8 1071.9,317.9 1073.7,319.8 1075.7,322.1 1076.8,323.9 1075.6,326.2 1080.1,328.7 1080.2,331.2 1084.2,332.7 1082.4,335.7 1081.1,337.8 1084.2,340.6 1083.1,343.4 1085.4,345.5 1085.3,348.0 1087.4,350.8 1088.2,353.0 1087.2,355.7 1090.4,357.5 1089.2,360.2 1090.5,362.3 1092.6,364.9 1092.0,367.2 1094.4,370.1 1097.0,371.9 1095.6,374.8 1095.7,376.4 1098.3,379.7 1097.3,382.7 1100.0,384.2 1100.8,386.7 1101.1,390.0 1100.7,392.3 1101.8,393.8 1105.5,396.0 1104.7,398.9 1105.8,401.0 1106.7,403.6 1108.1,405.4 1110.1,407.2 1111.8,409.7 1110.8,412.7 1112.4,414.0 1113.1,416.5 1115.0,419.1 1114.2,421.8 1116.6,425.0 1116.5,426.7 1116.3,429.6 1115.1,431.7 1114.9,435.0 1116.8,437.7 1117.0,440.0" fill="none" stroke="#70ad47" stroke-width="2.6" stroke-linejoin="round" stroke-linecap="round"/>
<polyline points="1219.0,99.3 1216.0,98.7 1215.4,100.4 1211.9,99.8 1210.3,99.6 1207.3,99.8 1203.5,98.7 1199.4,99.6 1199.2,99.3 1193.7,99.2 1193.6,99.0 1190.3,100.2 1190.1,99.7 1186.4,99.2 1183.2,99.6 1180.1,99.3 1180.3,98.9 1175.1,100.1 1173.8,99.4 1170.0,98.8 1169.7,98.4 1166.3,99.2 1163.2,98.6 1161.7,99.6 1158.5,99.6 1154.2,99.5 1153.7,99.4 1147.2,99.4 1148.2,99.0 1145.6,99.9 1142.9,99.9 1139.9,99.2 1138.3,99.1 1133.6,99.6 1132.9,99.7 1129.4,99.3 1128.4,99.3 1125.1,99.5 1122.0,99.6 1118.6,99.7 1120.7,99.7 1114.8,98.9 1111.4,99.4 1109.3,99.7 1107.8,99.8 1104.8,99.8 1104.0,99.2 1099.9,99.4 1097.4,100.0 1094.6,99.2 1091.0,99.0 1089.9,99.9 1087.6,99.3 1084.8,99.3 1083.6,99.7 1081.6,99.9 1078.2,99.3 1075.6,99.6 1071.9,99.8 1071.8,99.9 1069.7,100.0 1063.5,99.6 1064.6,100.0 1060.1,99.7 1057.7,100.0 1054.6,99.9 1052.9,99.5 1049.8,99.7 1046.9,99.6 1044.4,99.7 1044.4,99.9 1040.5,99.7 1037.7,100.4 1036.8,101.2 1032.1,101.4 1030.2,101.5 1027.5,101.5 1025.0,101.0 1023.2,101.7 1020.0,102.1 1018.1,103.2 1014.0,102.3 1011.6,103.2 1009.8,102.8 1008.1,103.3 1005.7,103.0 1002.6,104.0 999.5,104.5 997.5,103.9 994.6,104.5 993.7,104.3 990.7,104.5 986.6,104.4 985.9,104.7 982.7,105.6 981.1,105.0 977.3,105.4 972.9,105.7 971.8,105.8 969.3,105.6 968.4,106.1 967.0,105.8 961.9,106.7 960.7,105.8 957.1,106.6 954.6,106.0 952.6,106.9 951.4,107.2 948.4,106.7 943.8,106.7 943.2,107.6 938.1,107.6 938.5,108.1 935.9,108.0 932.8,107.7 929.9,107.9 926.3,108.1 926.1,108.1 923.9,108.1 920.5,108.2 918.7,108.9 916.1,109.0 913.1,109.2 910.3,107.9 907.7,109.1 902.6,109.5 902.5,109.5 899.7,109.3 896.7,109.2 893.4,109.4 892.1,109.2 889.3,109.2 887.5,109.6 884.7,110.2 881.4,109.6 878.6,109.7 877.3,109.3 875.4,109.2 872.0,110.0 868.6,110.7 867.7,109.8 865.4,110.5 861.9,110.1 861.0,111.4 857.7,111.5 853.0,110.4 852.4,111.0 849.9,112.2 846.0,111.9 844.5,111.5 841.7,111.8 839.1,113.1 837.9,113.2 834.3,112.8 833.8,113.3 829.5,113.9 831.6,113.8 834.4,113.9 838.1,113.5 839.9,113.9 842.3,114.4 846.8,113.6 849.7,114.3 849.7,114.4 853.5,114.9 854.1,114.4 859.6,115.6 859.1,116.2 863.4,117.5 865.4,117.4 868.4,118.3 871.9,119.1 875.8,119.5 878.2,120.2 880.0,121.1 883.6,121.1 886.7,121.4 886.7,122.6 889.4,123.9 890.2,123.6 890.3,125.3 885.5,125.1 884.7,126.2 879.7,126.6 878.1,126.9 875.8,127.7 872.0,129.1 870.3,128.2 870.3,128.8 865.3,128.3 861.6,130.1 859.8,129.7 858.0,130.2 857.7,129.8 851.4,131.4 851.4,131.4 849.5,131.4 846.3,132.1 844.6,132.1 844.3,132.4 847.9,133.2 851.9,133.6 853.8,134.5 856.0,135.9 859.5,135.8 860.9,137.0 863.5,137.7 867.5,137.9 864.1,139.2 861.7,138.6 860.0,139.3 855.8,139.8 854.3,139.9 851.4,140.7 849.4,140.9 845.3,141.4 844.0,141.8 842.0,142.3 837.1,142.8 837.0,142.4 839.3,143.9 841.4,144.3 842.6,144.9 846.4,144.9 848.9,146.2 850.5,147.1 853.6,147.0 856.3,147.6 858.1,147.9 853.9,148.1 853.3,149.7 850.2,148.8 849.1,149.8 844.9,150.9 843.6,151.4 840.4,151.7 839.1,152.8 836.9,153.4 839.3,153.6 841.4,154.5 842.5,155.8 847.0,155.7 847.8,156.7 850.7,157.2 852.9,158.6 850.4,159.5 849.8,161.3 845.7,162.8 848.3,164.2 850.3,165.5 853.1,166.3 854.1,167.9 857.6,168.9 860.1,170.0 862.2,170.9 867.0,172.0 866.9,173.4 870.0,174.0 873.5,174.5 874.7,176.7 877.2,177.7 876.4,178.3 881.4,179.5 884.8,181.8 884.2,182.5 889.0,184.3 889.9,184.7 893.8,185.2 894.4,187.0 897.6,187.5 898.8,188.9 901.5,190.8 904.5,192.8 906.5,193.5 909.6,195.6 910.4,196.6 912.8,198.0 915.9,200.1 917.3,201.1 918.9,203.6 922.3,204.6 923.3,205.8 925.7,207.4 926.6,209.0 929.7,210.4 933.1,211.7 934.0,213.5 938.2,214.3 940.1,215.2 941.8,217.1 944.2,217.7 945.4,218.9 947.6,220.8 948.0,221.2 952.2,223.1 954.2,224.8 956.0,225.3 958.5,226.6 962.4,229.1 963.2,229.7 965.9,231.2 967.6,232.0 970.7,234.1 971.5,234.6 974.3,237.1 976.0,237.4 979.6,238.9 980.7,240.9 982.0,241.7 986.6,243.7 988.2,244.8 989.6,246.1 992.5,248.1 994.7,249.0 995.7,250.9 999.0,251.9 1000.6,253.6 1001.9,254.9 1004.6,256.8 1005.0,258.5 1007.2,259.9 1011.5,261.0 1010.4,263.4 1014.8,265.1 1016.8,266.3 1018.5,268.5 1020.8,269.9 1024.7,271.8 1022.3,273.2 1024.9,275.8 1029.1,277.1 1030.9,278.8 1033.5,280.4 1036.2,282.5 1038.2,283.5 1038.0,286.0 1040.8,287.2 1043.9,289.6 1043.6,290.8 1046.4,292.8 1049.3,294.8 1051.8,296.7 1051.3,298.8 1053.1,300.0 1056.3,301.3 1060.1,302.9 1060.6,304.9 1063.4,306.8 1064.4,309.4 1066.0,311.7 1067.6,314.0 1067.8,315.0 1069.1,317.8 1071.0,320.5 1072.7,322.3 1072.5,325.2 1076.3,327.2 1078.1,329.5 1077.5,331.6 1079.8,334.3 1080.3,336.5 1079.3,339.0 1083.4,340.9 1083.3,344.1 1084.1,346.4 1084.7,348.8 1085.0,350.9 1085.3,353.3 1086.5,356.6 1086.6,358.6 1087.8,361.4 1089.0,363.8 1088.2,366.5 1091.8,368.8 1091.9,370.8 1093.5,372.6 1091.8,376.0 1094.2,378.3 1096.5,379.9 1097.2,382.8 1097.1,384.5 1098.0,387.4 1100.8,389.9 1101.2,392.7 1102.8,394.9 1102.0,397.1 1103.6,399.3 1104.6,402.4 1102.0,404.3 1106.7,406.2 1108.2,408.7 1109.4,411.0 1109.6,413.2 1110.5,414.8 1111.1,418.0 1110.5,419.5 1113.3,422.4 1112.7,425.1 1115.4,427.5 1111.6,430.7 1114.7,432.5 1113.3,436.3 1115.7,438.9 1115.0,441.0" fill="none" stroke="#548235" stroke-width="2.6" stroke-linejoin="round" stroke-linecap="round"/>
<line x1="827.6" y1="99" x2="830.1" y2="463" stroke="#111" stroke-width="2.3" stroke-dasharray="7.5,5.7" stroke-dashoffset="11.3"/>
<line x1="1192" y1="143.6" x2="1211" y2="143.6" stroke="#1f4e79" stroke-width="2.6"/>
<text x="1215.4" y="149.2" font-size="16.5" font-family="Liberation Serif, serif" fill="#222">CTD02</text>
<line x1="1192" y1="170.7" x2="1211" y2="170.7" stroke="#2e75b6" stroke-width="2.6"/>
<text x="1215.4" y="176.3" font-size="16.5" font-family="Liberation Serif, serif" fill="#222">CTD03</text>
<line x1="1192" y1="197.8" x2="1211" y2="197.8" stroke="#9dc3e6" stroke-width="2.6"/>
<text x="1215.4" y="203.4" font-size="16.5" font-family="Liberation Serif, serif" fill="#222">CTD04</text>
<line x1="1192" y1="224.9" x2="1211" y2="224.9" stroke="#bdd7ee" stroke-width="2.6"/>
<text x="1215.4" y="230.5" font-size="16.5" font-family="Liberation Serif, serif" fill="#222">CTD05</text>
<line x1="1192" y1="252.0" x2="1211" y2="252.0" stroke="#deebf7" stroke-width="2.6"/>
<text x="1215.4" y="257.6" font-size="16.5" font-family="Liberation Serif, serif" fill="#222">CTD06</text>
<line x1="1192" y1="279.1" x2="1211" y2="279.1" stroke="#6a9fd0" stroke-width="2.6"/>
<text x="1215.4" y="284.7" font-size="16.5" font-family="Liberation Serif, serif" fill="#222">CTD07</text>
<line x1="1192" y1="306.2" x2="1211" y2="306.2" stroke="#ed7d31" stroke-width="2.6"/>
<text x="1215.4" y="311.8" font-size="16.5" font-family="Liberation Serif, serif" fill="#222">CTD13</text>
<line x1="1192" y1="333.3" x2="1211" y2="333.3" stroke="#f4b183" stroke-width="2.6"/>
<text x="1215.4" y="338.9" font-size="16.5" font-family="Liberation Serif, serif" fill="#222">CTD14</text>
<line x1="1192" y1="360.4" x2="1211" y2="360.4" stroke="#70ad47" stroke-width="2.6"/>
<text x="1215.4" y="366.0" font-size="16.5" font-family="Liberation Serif, serif" fill="#222">CTD17</text>
<line x1="1192" y1="387.5" x2="1211" y2="387.5" stroke="#a9d18e" stroke-width="2.6"/>
<text x="1215.4" y="393.1" font-size="16.5" font-family="Liberation Serif, serif" fill="#222">CTD23</text>
<line x1="1192" y1="414.6" x2="1211" y2="414.6" stroke="#548235" stroke-width="2.6"/>
<text x="1215.4" y="420.2" font-size="16.5" font-family="Liberation Serif, serif" fill="#222">CTD24</text>
</svg>
</body></html>
